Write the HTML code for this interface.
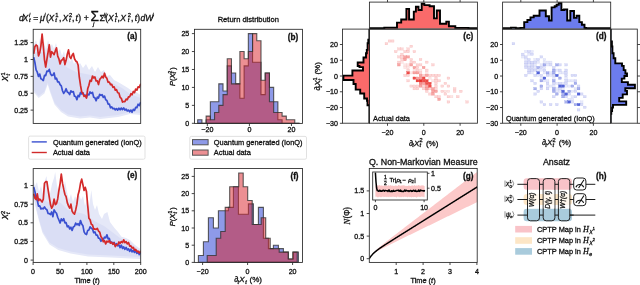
<!DOCTYPE html>
<html><head><meta charset="utf-8"><style>
html,body{margin:0;padding:0;background:#fff;width:640px;height:285px;overflow:hidden}
svg{display:block;will-change:transform;font-family:"Liberation Sans", sans-serif;fill:#1a1a1a}
text{fill:#111;stroke:#111;stroke-width:0.3px}
</style></head><body>
<svg width="640" height="285" viewBox="0 0 640 285">
<g transform="translate(0.00,0.00)">
<text x="19.00" y="20.70" font-size="8.6" font-style="italic">d</text>
<text x="22.50" y="20.70" font-size="8.6" font-style="italic">X</text>
<text x="29.00" y="17.00" font-size="5.8" font-style="italic">i</text>
<text x="29.00" y="22.30" font-size="5.8" font-style="italic">t</text>
<text x="33.30" y="20.70" font-size="8.6">=</text>
<text x="39.90" y="20.70" font-size="8.6" font-style="italic">&#956;</text>
<text x="44.30" y="17.00" font-size="5.8" font-style="italic">i</text>
<text x="46.10" y="20.70" font-size="8.6">(</text>
<text x="48.60" y="20.70" font-size="8.6" font-style="italic">X</text>
<text x="55.30" y="17.00" font-size="5.8">1</text>
<text x="55.30" y="22.30" font-size="5.8" font-style="italic">t</text>
<text x="59.00" y="20.70" font-size="8.6">,</text>
<text x="62.60" y="20.70" font-size="8.6" font-style="italic">X</text>
<text x="69.00" y="17.00" font-size="5.8">2</text>
<text x="69.00" y="22.30" font-size="5.8" font-style="italic">t</text>
<text x="72.00" y="20.70" font-size="8.6">,</text>
<text x="75.60" y="20.70" font-size="8.6" font-style="italic">t</text>
<text x="78.30" y="20.70" font-size="8.6">)</text>
<text x="83.80" y="20.70" font-size="8.6">+</text>
<text x="90.60" y="21.00" font-size="13.8">&#931;</text>
<text x="93.00" y="26.40" font-size="5.8" font-style="italic">j</text>
<text x="99.60" y="20.70" font-size="8.6">&#931;</text>
<text x="103.60" y="17.00" font-size="5.8" font-style="italic">ij</text>
<text x="105.30" y="20.70" font-size="8.6">(</text>
<text x="108.00" y="20.70" font-size="8.6" font-style="italic">X</text>
<text x="114.70" y="17.00" font-size="5.8">1</text>
<text x="114.70" y="22.30" font-size="5.8" font-style="italic">t</text>
<text x="117.50" y="20.70" font-size="8.6">,</text>
<text x="120.30" y="20.70" font-size="8.6" font-style="italic">X</text>
<text x="127.80" y="17.00" font-size="5.8">2</text>
<text x="127.80" y="22.30" font-size="5.8" font-style="italic">t</text>
<text x="131.10" y="20.70" font-size="8.6">,</text>
<text x="134.70" y="20.70" font-size="8.6" font-style="italic">t</text>
<text x="137.20" y="20.70" font-size="8.6">)</text>
<text x="140.50" y="20.70" font-size="8.6" font-style="italic">d</text>
<text x="145.20" y="20.70" font-size="8.6" font-style="italic">W</text>
<text x="152.30" y="17.00" font-size="5.8" font-style="italic">j</text>
</g>
<polygon points="33.40,46.00 36.00,40.00 38.00,48.00 40.00,38.00 42.00,46.00 44.00,42.00 46.00,50.00 48.00,40.00 50.00,47.00 52.00,44.00 54.00,49.00 56.00,43.00 58.00,52.00 60.00,49.00 62.00,56.00 64.00,51.00 66.00,60.00 68.00,55.00 70.00,62.00 72.00,58.00 74.00,64.00 76.00,61.00 78.00,66.00 80.00,63.00 83.00,68.00 86.00,64.00 89.00,70.00 92.00,66.00 95.00,72.00 98.00,67.00 101.00,72.00 104.00,70.00 107.00,76.00 110.00,75.00 114.00,80.00 118.00,82.00 123.00,85.00 128.00,88.00 132.00,91.00 136.00,92.00 140.50,95.00 140.50,115.00 130.00,114.00 118.00,117.00 100.00,119.00 90.00,117.50 80.00,118.50 68.00,116.50 61.00,112.00 54.50,104.50 50.00,92.00 47.70,84.50 44.40,93.50 38.70,98.00 33.40,92.00" fill="#e5e8f8" />
<polygon points="33.40,52.00 38.00,52.00 44.00,52.00 50.00,54.00 56.00,56.00 62.00,64.00 68.00,68.00 76.00,72.00 86.00,74.00 96.00,76.00 106.00,80.00 114.00,84.00 122.00,88.00 130.00,94.00 140.50,98.00 140.50,113.00 130.00,112.00 118.00,115.00 100.00,117.00 90.00,115.50 80.00,116.50 68.00,114.50 61.00,110.00 54.50,102.50 50.00,90.00 47.70,82.50 44.40,91.50 38.70,96.00 33.40,90.00" fill="#dadef5" />
<svg x="0" y="0" width="640" height="285" overflow="hidden"><clipPath id="ca"><rect x="33.2" y="29.3" width="107.5" height="94.1"/></clipPath></svg>
<g clip-path="url(#ca)">
<polyline points="33.70,57.20 34.90,62.51 36.10,69.95 37.30,72.15 38.50,76.42 39.70,74.02 40.90,78.71 42.10,79.38 43.30,80.52 44.50,75.37 45.70,75.55 46.90,71.10 48.10,71.34 49.30,69.35 50.50,73.75 51.70,75.52 52.90,75.14 54.10,72.91 55.30,78.98 56.50,78.18 57.70,81.88 58.90,81.87 60.10,84.66 61.30,85.85 62.50,90.73 63.70,93.39 64.90,91.63 66.10,88.70 67.30,92.01 68.50,92.69 69.70,94.50 70.90,90.80 72.10,92.06 73.30,91.58 74.50,96.17 75.70,96.49 76.90,99.74 78.10,95.43 79.30,96.59 80.50,92.45 81.70,93.91 82.90,92.74 84.10,95.50 85.30,95.21 86.50,97.10 87.70,94.10 88.90,94.94 90.10,91.92 91.30,93.40 92.50,92.33 93.70,97.24 94.90,97.83 96.10,100.76 97.30,97.16 98.50,98.05 99.70,94.28 100.90,95.44 102.10,94.63 103.30,97.41 104.50,96.10 105.70,99.72 106.90,100.42 108.10,104.05 109.30,104.11 110.50,107.78 111.70,106.84 112.90,108.75 114.10,108.35 115.30,109.88 116.50,108.57 117.70,110.12 118.90,108.19 120.10,109.80 121.30,108.07 122.50,109.62 123.70,107.95 124.90,110.15 126.10,109.10 127.30,110.98 128.50,110.03 129.70,111.78 130.90,110.05 132.10,112.28 133.30,109.29 134.50,110.47 135.70,107.41 136.90,107.62 138.10,104.19 139.30,105.54 140.50,102.67 140.60,103.00" fill="none" stroke="#3a50d0" stroke-width="1.7" stroke-linejoin="round" />
<polyline points="33.70,53.80 34.90,46.63 36.10,45.02 37.30,45.93 38.50,56.00 39.70,52.77 40.90,45.83 42.10,34.13 43.30,46.19 44.50,59.82 45.70,67.03 46.90,59.27 48.10,52.14 49.30,44.72 50.50,57.16 51.70,51.69 52.90,53.10 54.10,54.65 55.30,50.92 56.50,47.82 57.70,56.14 58.90,58.87 60.10,63.98 61.30,60.35 62.50,59.79 63.70,57.71 64.90,64.54 66.10,60.31 67.30,54.24 68.50,49.85 69.70,56.87 70.90,58.56 72.10,55.20 73.30,53.51 74.50,58.73 75.70,60.95 76.90,61.76 78.10,65.03 79.30,77.21 80.50,85.23 81.70,91.96 82.90,93.37 84.10,96.41 85.30,95.63 86.50,97.99 87.70,88.79 88.90,85.25 90.10,80.29 91.30,81.25 92.50,76.01 93.70,77.93 94.90,77.02 96.10,80.98 97.30,80.74 98.50,84.55 99.70,79.60 100.90,77.96 102.10,76.24 103.30,77.89 104.50,73.23 105.70,77.01 106.90,78.42 108.10,82.27 109.30,82.00 110.50,84.65 111.70,84.33 112.90,87.27 114.10,86.78 115.30,90.11 116.50,89.55 117.70,92.75 118.90,92.97 120.10,97.29 121.30,98.31 122.50,102.08 123.70,101.53 124.90,101.71 126.10,99.13 127.30,99.69 128.50,96.95 129.70,96.80 130.90,93.72 132.10,94.77 133.30,91.43 134.50,92.64 135.70,89.09 136.90,90.10 138.10,86.84 139.30,87.31 140.50,84.34 140.60,85.50" fill="none" stroke="#d42a2a" stroke-width="1.7" stroke-linejoin="round" />
</g>
<rect x="33.20" y="29.30" width="107.50" height="94.10" fill="none" stroke="#262626" stroke-width="0.85"/>
<line x1="30.60" y1="42.61" x2="33.20" y2="42.61" stroke="#262626" stroke-width="0.85"/>
<text x="28.00" y="45.16" font-size="7.1" text-anchor="end" >1.25</text>
<line x1="30.60" y1="59.48" x2="33.20" y2="59.48" stroke="#262626" stroke-width="0.85"/>
<text x="28.00" y="62.03" font-size="7.1" text-anchor="end" >1</text>
<line x1="30.60" y1="76.36" x2="33.20" y2="76.36" stroke="#262626" stroke-width="0.85"/>
<text x="28.00" y="78.91" font-size="7.1" text-anchor="end" >0.75</text>
<line x1="30.60" y1="93.23" x2="33.20" y2="93.23" stroke="#262626" stroke-width="0.85"/>
<text x="28.00" y="95.78" font-size="7.1" text-anchor="end" >0.5</text>
<line x1="30.60" y1="110.11" x2="33.20" y2="110.11" stroke="#262626" stroke-width="0.85"/>
<text x="28.00" y="112.66" font-size="7.1" text-anchor="end" >0.25</text>
<text x="137.20" y="39.30" font-size="8.2" text-anchor="end" font-weight="bold">(a)</text>
<g transform="translate(8.20,81.20) rotate(-90)">
<text x="0.00" y="0.00" font-size="8.2" font-style="italic">X</text>
<text x="5.60" y="-3.30" font-size="5.6">1</text>
<text x="5.60" y="1.90" font-size="5.6" font-style="italic">t</text>
</g>
<rect x="28.6" y="136.1" width="116.4" height="23.1" rx="1.5" fill="#fff" stroke="#d9d9d9" stroke-width="0.8"/>
<line x1="31.70" y1="141.90" x2="46.80" y2="141.90" stroke="#3a50d0" stroke-width="1.4"/>
<line x1="31.70" y1="152.50" x2="46.80" y2="152.50" stroke="#d12a2a" stroke-width="1.4"/>
<text x="52.90" y="144.60" font-size="7.4" text-anchor="start" >Quantum generated (IonQ)</text>
<text x="52.90" y="155.20" font-size="7.4" text-anchor="start" >Actual data</text>
<polygon points="33.40,180.00 35.00,186.00 37.00,182.00 39.00,192.00 41.00,186.00 43.00,194.00 45.00,180.00 46.50,176.00 48.00,188.00 50.00,194.00 52.00,184.00 54.00,178.00 55.20,172.00 57.00,186.00 59.00,194.00 61.00,184.00 63.00,191.00 65.00,181.00 67.00,192.00 69.00,200.00 71.00,194.00 73.00,202.00 75.00,196.00 77.00,200.00 79.00,194.00 81.00,200.00 83.00,196.00 85.00,206.00 87.00,200.00 89.00,208.00 91.30,190.00 93.00,204.00 95.00,210.00 97.00,205.00 99.00,214.00 102.00,219.00 104.00,214.00 107.40,212.00 110.00,222.00 114.50,228.00 118.00,232.00 121.50,236.80 126.00,238.00 130.20,240.30 135.00,245.00 140.50,249.00 140.50,259.00 111.00,257.50 88.00,256.50 70.60,253.50 58.30,250.00 49.50,244.50 42.50,233.00 39.00,221.00 35.00,205.00 33.40,195.00" fill="#e5e8f8" />
<polygon points="33.40,190.00 38.00,198.00 44.00,200.00 50.00,203.00 56.00,200.00 62.00,204.00 68.00,210.00 76.00,212.00 84.00,214.00 90.00,218.00 96.00,222.00 104.00,226.00 112.00,232.00 120.00,238.00 130.00,243.00 140.50,251.00 140.50,257.00 111.00,255.50 88.00,254.50 70.60,251.50 58.30,248.00 49.50,242.50 42.50,231.00 39.00,219.00 35.00,203.00 33.40,193.00" fill="#dadef5" />
<g clip-path="url(#ce)">
<clipPath id="ce"><rect x="33.2" y="168.6" width="107.5" height="93.8"/></clipPath>
<polyline points="33.70,187.00 34.90,191.49 36.10,198.29 37.30,200.26 38.50,206.10 39.70,205.80 40.90,208.86 42.10,208.35 43.30,208.78 44.50,206.91 45.70,208.89 46.90,209.80 48.10,213.44 49.30,213.64 50.50,214.48 51.70,211.98 52.90,216.71 54.10,209.88 55.30,211.96 56.50,213.28 57.70,217.27 58.90,219.99 60.10,223.00 61.30,218.91 62.50,220.71 63.70,218.76 64.90,222.84 66.10,222.71 67.30,226.77 68.50,225.89 69.70,228.89 70.90,227.26 72.10,230.37 73.30,226.88 74.50,226.24 75.70,223.13 76.90,224.76 78.10,223.75 79.30,225.46 80.50,220.51 81.70,224.11 82.90,225.70 84.10,231.82 85.30,233.87 86.50,234.59 87.70,230.59 88.90,230.04 90.10,226.90 91.30,228.29 92.50,229.06 93.70,232.71 94.90,231.90 96.10,235.03 97.30,235.08 98.50,238.23 99.70,238.35 100.90,241.27 102.10,239.68 103.30,239.62 104.50,237.18 105.70,237.78 106.90,234.78 108.10,238.83 109.30,238.47 110.50,242.94 111.70,242.09 112.90,243.66 114.10,242.41 115.30,245.69 116.50,243.67 117.70,245.78 118.90,244.85 120.10,247.58 121.30,245.14 122.50,248.39 123.70,246.89 124.90,249.30 126.10,247.49 127.30,249.99 128.50,248.78 129.70,251.35 130.90,249.13 132.10,251.84 133.30,250.38 134.50,252.45 135.70,250.72 136.90,253.35 138.10,251.99 139.30,254.51 140.50,253.17 140.60,254.00" fill="none" stroke="#3a50d0" stroke-width="1.7" stroke-linejoin="round" />
<polyline points="33.70,193.80 34.90,198.14 36.10,199.49 37.30,193.80 38.50,200.71 39.70,199.13 40.90,200.42 42.10,202.00 43.30,199.13 44.50,183.18 45.70,181.72 46.90,181.68 48.10,189.65 49.30,197.25 50.50,204.61 51.70,208.16 52.90,205.95 54.10,199.14 55.30,204.58 56.50,203.51 57.70,198.96 58.90,190.49 60.10,183.55 61.30,174.08 62.50,183.15 63.70,189.18 64.90,194.31 66.10,196.69 67.30,202.61 68.50,205.84 69.70,208.17 70.90,204.16 72.10,211.15 73.30,213.17 74.50,214.14 75.70,209.93 76.90,204.13 78.10,194.70 79.30,190.54 80.50,183.31 81.70,179.17 82.90,184.62 84.10,190.49 85.30,187.38 86.50,191.83 87.70,205.40 88.90,218.17 90.10,219.79 91.30,224.20 92.50,224.90 93.70,229.06 94.90,228.90 96.10,229.50 97.30,228.35 98.50,231.01 99.70,232.10 100.90,236.47 102.10,238.21 103.30,241.73 104.50,240.76 105.70,243.90 106.90,241.14 108.10,242.03 109.30,240.66 110.50,243.07 111.70,242.34 112.90,244.35 114.10,242.88 115.30,246.57 116.50,244.93 117.70,244.77 118.90,241.99 120.10,243.40 121.30,241.56 122.50,242.68 123.70,239.85 124.90,242.68 126.10,241.55 127.30,243.91 128.50,242.52 129.70,246.08 130.90,245.86 132.10,248.11 133.30,247.34 134.50,250.17 135.70,249.39 136.90,251.62 138.10,251.16 139.30,252.96 140.50,251.36 140.60,253.00" fill="none" stroke="#d42a2a" stroke-width="1.7" stroke-linejoin="round" />
</g>
<rect x="33.20" y="168.60" width="107.50" height="93.80" fill="none" stroke="#262626" stroke-width="0.85"/>
<line x1="30.60" y1="185.50" x2="33.20" y2="185.50" stroke="#262626" stroke-width="0.85"/>
<text x="28.00" y="188.05" font-size="7.1" text-anchor="end" >1</text>
<line x1="30.60" y1="204.15" x2="33.20" y2="204.15" stroke="#262626" stroke-width="0.85"/>
<text x="28.00" y="206.70" font-size="7.1" text-anchor="end" >0.75</text>
<line x1="30.60" y1="222.80" x2="33.20" y2="222.80" stroke="#262626" stroke-width="0.85"/>
<text x="28.00" y="225.35" font-size="7.1" text-anchor="end" >0.5</text>
<line x1="30.60" y1="241.45" x2="33.20" y2="241.45" stroke="#262626" stroke-width="0.85"/>
<text x="28.00" y="244.00" font-size="7.1" text-anchor="end" >0.25</text>
<line x1="30.60" y1="260.10" x2="33.20" y2="260.10" stroke="#262626" stroke-width="0.85"/>
<text x="28.00" y="262.65" font-size="7.1" text-anchor="end" >0</text>
<line x1="33.10" y1="262.40" x2="33.10" y2="265.00" stroke="#262626" stroke-width="0.85"/>
<text x="33.10" y="273.50" font-size="7.1" text-anchor="middle" >0</text>
<line x1="60.00" y1="262.40" x2="60.00" y2="265.00" stroke="#262626" stroke-width="0.85"/>
<text x="60.00" y="273.50" font-size="7.1" text-anchor="middle" >50</text>
<line x1="86.90" y1="262.40" x2="86.90" y2="265.00" stroke="#262626" stroke-width="0.85"/>
<text x="86.90" y="273.50" font-size="7.1" text-anchor="middle" >100</text>
<line x1="113.80" y1="262.40" x2="113.80" y2="265.00" stroke="#262626" stroke-width="0.85"/>
<text x="113.80" y="273.50" font-size="7.1" text-anchor="middle" >150</text>
<line x1="140.70" y1="262.40" x2="140.70" y2="265.00" stroke="#262626" stroke-width="0.85"/>
<text x="140.70" y="273.50" font-size="7.1" text-anchor="middle" >200</text>
<text x="137.20" y="178.30" font-size="8.2" text-anchor="end" font-weight="bold">(e)</text>
<g transform="translate(8.20,219.60) rotate(-90)">
<text x="0.00" y="0.00" font-size="8.2" font-style="italic">X</text>
<text x="5.60" y="-3.30" font-size="5.6">2</text>
<text x="5.60" y="1.90" font-size="5.6" font-style="italic">t</text>
</g>
<text x="87" y="282.6" font-size="7.4" text-anchor="middle">Time (<tspan font-style="italic">t</tspan>)</text>
<text x="248.30" y="21.80" font-size="7.55" text-anchor="middle" >Return distribution</text>
<clipPath id="cb"><rect x="194.5" y="29.3" width="108" height="94.1"/></clipPath><g clip-path="url(#cb)">
<polygon points="197.70,123.40 197.70,119.71 201.92,119.71 201.92,123.30 206.14,123.30 206.14,119.71 210.36,119.71 210.36,101.77 214.58,101.77 214.58,101.77 218.80,101.77 218.80,83.83 223.02,83.83 223.02,91.01 227.24,91.01 227.24,65.89 231.46,65.89 231.46,73.07 235.68,73.07 235.68,83.83 239.90,83.83 239.90,98.18 244.12,98.18 244.12,65.89 248.34,65.89 248.34,33.60 252.56,33.60 252.56,62.30 256.78,62.30 256.78,62.30 261.00,62.30 261.00,94.60 265.22,94.60 265.22,73.07 269.44,73.07 269.44,87.42 273.66,87.42 273.66,101.77 277.88,101.77 277.88,119.71 282.10,119.71 282.10,123.30 286.32,123.30 286.32,123.30 290.54,123.30 290.54,123.30 294.76,123.30 294.76,123.30 298.98,123.30 298.98,123.40" fill="#1d35d1" fill-opacity="0.5" stroke="#333" stroke-width="1.1" stroke-opacity="0.8"/>
<polygon points="197.70,123.40 197.70,123.30 201.92,123.30 201.92,123.30 206.14,123.30 206.14,116.12 210.36,116.12 210.36,119.71 214.58,119.71 214.58,112.54 218.80,112.54 218.80,105.36 223.02,105.36 223.02,94.60 227.24,94.60 227.24,58.72 231.46,58.72 231.46,83.83 235.68,83.83 235.68,83.83 239.90,83.83 239.90,51.54 244.12,51.54 244.12,58.72 248.34,58.72 248.34,51.54 252.56,51.54 252.56,33.60 256.78,33.60 256.78,40.78 261.00,40.78 261.00,80.24 265.22,80.24 265.22,73.07 269.44,73.07 269.44,101.77 273.66,101.77 273.66,112.54 277.88,112.54 277.88,112.54 282.10,112.54 282.10,116.12 286.32,116.12 286.32,119.71 290.54,119.71 290.54,119.71 294.76,119.71 294.76,123.30 298.98,123.30 298.98,123.40" fill="#d91f27" fill-opacity="0.5" stroke="#333" stroke-width="1.1" stroke-opacity="0.8"/>
</g>
<rect x="194.50" y="29.30" width="108.00" height="94.10" fill="none" stroke="#262626" stroke-width="0.85"/>
<line x1="191.90" y1="123.30" x2="194.50" y2="123.30" stroke="#262626" stroke-width="0.85"/>
<text x="189.30" y="125.85" font-size="7.1" text-anchor="end" >0</text>
<line x1="191.90" y1="105.36" x2="194.50" y2="105.36" stroke="#262626" stroke-width="0.85"/>
<text x="189.30" y="107.91" font-size="7.1" text-anchor="end" >5</text>
<line x1="191.90" y1="87.42" x2="194.50" y2="87.42" stroke="#262626" stroke-width="0.85"/>
<text x="189.30" y="89.97" font-size="7.1" text-anchor="end" >10</text>
<line x1="191.90" y1="69.48" x2="194.50" y2="69.48" stroke="#262626" stroke-width="0.85"/>
<text x="189.30" y="72.03" font-size="7.1" text-anchor="end" >15</text>
<line x1="191.90" y1="51.54" x2="194.50" y2="51.54" stroke="#262626" stroke-width="0.85"/>
<text x="189.30" y="54.09" font-size="7.1" text-anchor="end" >20</text>
<line x1="191.90" y1="33.60" x2="194.50" y2="33.60" stroke="#262626" stroke-width="0.85"/>
<text x="189.30" y="36.15" font-size="7.1" text-anchor="end" >25</text>
<line x1="207.34" y1="123.40" x2="207.34" y2="126.00" stroke="#262626" stroke-width="0.85"/>
<text x="207.34" y="132.30" font-size="7.1" text-anchor="middle" >&#8722;20</text>
<line x1="249.40" y1="123.40" x2="249.40" y2="126.00" stroke="#262626" stroke-width="0.85"/>
<text x="249.40" y="132.30" font-size="7.1" text-anchor="middle" >0</text>
<line x1="291.46" y1="123.40" x2="291.46" y2="126.00" stroke="#262626" stroke-width="0.85"/>
<text x="291.46" y="132.30" font-size="7.1" text-anchor="middle" >20</text>
<text x="298.20" y="39.80" font-size="8.2" text-anchor="end" font-weight="bold">(b)</text>
<g transform="translate(174.50,86.10) rotate(-90)">
<text x="0.00" y="0.00" font-size="7.5" font-style="italic">P</text>
<text x="5.00" y="0.00" font-size="7.5">(</text>
<text x="7.50" y="0.00" font-size="7.5" font-style="italic">X</text>
<text x="12.60" y="-3.00" font-size="5.2">2</text>
<text x="12.60" y="1.80" font-size="5.2" font-style="italic">t</text>
<text x="16.40" y="0.00" font-size="7.5">)</text>
</g>
<rect x="189.8" y="136.4" width="116.7" height="22.8" rx="1.5" fill="#fff" stroke="#d9d9d9" stroke-width="0.8"/>
<rect x="192.5" y="139.6" width="15.6" height="5.2" fill="#1d35d1" fill-opacity="0.5" stroke="#555" stroke-width="1"/>
<rect x="192.5" y="150.0" width="15.6" height="5.2" fill="#d91f27" fill-opacity="0.5" stroke="#555" stroke-width="1"/>
<text x="213.80" y="144.80" font-size="7.4" text-anchor="start" >Quantum generated (IonQ)</text>
<text x="213.80" y="155.20" font-size="7.4" text-anchor="start" >Actual data</text>
<clipPath id="cf"><rect x="194.3" y="168.5" width="108.2" height="93.9"/></clipPath><g clip-path="url(#cf)">
<polygon points="198.40,262.40 198.40,255.52 203.40,255.52 203.40,241.76 208.40,241.76 208.40,217.68 213.40,217.68 213.40,228.00 218.40,228.00 218.40,210.80 223.40,210.80 223.40,210.80 228.40,210.80 228.40,207.36 233.40,207.36 233.40,186.72 238.40,186.72 238.40,214.24 243.40,214.24 243.40,214.24 248.40,214.24 248.40,203.92 253.40,203.92 253.40,224.56 258.40,224.56 258.40,207.36 263.40,207.36 263.40,238.32 268.40,238.32 268.40,248.64 273.40,248.64 273.40,245.20 278.40,245.20 278.40,248.64 283.40,248.64 283.40,252.08 288.40,252.08 288.40,258.96 293.40,258.96 293.40,252.08 298.40,252.08 298.40,262.40" fill="#1d35d1" fill-opacity="0.5" stroke="#333" stroke-width="1.1" stroke-opacity="0.8"/>
<polygon points="207.20,262.40 207.20,255.52 211.70,255.52 211.70,255.52 216.20,255.52 216.20,238.32 220.70,238.32 220.70,231.44 225.20,231.44 225.20,207.36 229.70,207.36 229.70,186.72 234.20,186.72 234.20,186.72 238.70,186.72 238.70,172.96 243.20,172.96 243.20,186.72 247.70,186.72 247.70,200.48 252.20,200.48 252.20,224.56 256.70,224.56 256.70,224.56 261.20,224.56 261.20,217.68 265.70,217.68 265.70,238.32 270.20,238.32 270.20,248.64 274.70,248.64 274.70,248.64 279.20,248.64 279.20,252.08 283.70,252.08 283.70,252.08 288.20,252.08 288.20,258.96 292.70,258.96 292.70,252.08 297.20,252.08 297.20,262.40" fill="#d91f27" fill-opacity="0.5" stroke="#333" stroke-width="1.1" stroke-opacity="0.8"/>
</g>
<rect x="194.30" y="168.50" width="108.20" height="93.90" fill="none" stroke="#262626" stroke-width="0.85"/>
<line x1="191.70" y1="262.40" x2="194.30" y2="262.40" stroke="#262626" stroke-width="0.85"/>
<text x="189.10" y="264.95" font-size="7.1" text-anchor="end" >0</text>
<line x1="191.70" y1="245.20" x2="194.30" y2="245.20" stroke="#262626" stroke-width="0.85"/>
<text x="189.10" y="247.75" font-size="7.1" text-anchor="end" >5</text>
<line x1="191.70" y1="228.00" x2="194.30" y2="228.00" stroke="#262626" stroke-width="0.85"/>
<text x="189.10" y="230.55" font-size="7.1" text-anchor="end" >10</text>
<line x1="191.70" y1="210.80" x2="194.30" y2="210.80" stroke="#262626" stroke-width="0.85"/>
<text x="189.10" y="213.35" font-size="7.1" text-anchor="end" >15</text>
<line x1="191.70" y1="193.60" x2="194.30" y2="193.60" stroke="#262626" stroke-width="0.85"/>
<text x="189.10" y="196.15" font-size="7.1" text-anchor="end" >20</text>
<line x1="191.70" y1="176.40" x2="194.30" y2="176.40" stroke="#262626" stroke-width="0.85"/>
<text x="189.10" y="178.95" font-size="7.1" text-anchor="end" >25</text>
<line x1="202.60" y1="262.40" x2="202.60" y2="265.00" stroke="#262626" stroke-width="0.85"/>
<text x="202.60" y="273.50" font-size="7.1" text-anchor="middle" >&#8722;20</text>
<line x1="247.60" y1="262.40" x2="247.60" y2="265.00" stroke="#262626" stroke-width="0.85"/>
<text x="247.60" y="273.50" font-size="7.1" text-anchor="middle" >0</text>
<line x1="292.60" y1="262.40" x2="292.60" y2="265.00" stroke="#262626" stroke-width="0.85"/>
<text x="292.60" y="273.50" font-size="7.1" text-anchor="middle" >20</text>
<text x="298.60" y="179.00" font-size="8.2" text-anchor="end" font-weight="bold">(f)</text>
<g transform="translate(174.80,226.20) rotate(-90)">
<text x="0.00" y="0.00" font-size="7.5" font-style="italic">P</text>
<text x="5.00" y="0.00" font-size="7.5">(</text>
<text x="7.50" y="0.00" font-size="7.5" font-style="italic">X</text>
<text x="12.60" y="-3.00" font-size="5.2">1</text>
<text x="12.60" y="1.80" font-size="5.2" font-style="italic">t</text>
<text x="16.40" y="0.00" font-size="7.5">)</text>
</g>
<g transform="translate(234.20,282.30)">
<text x="0.00" y="0.00" font-size="8" font-style="italic">&#8706;</text>
<text x="3.30" y="1.80" font-size="5.6" font-style="italic">t</text>
<text x="5.00" y="0.00" font-size="8" font-style="italic">X</text>
<text x="11.00" y="1.80" font-size="5.6" font-style="italic">t</text>
<text x="15.30" y="0.00" font-size="8">(%)</text>
</g>
<clipPath id="ctc"><rect x="369.4" y="2.1" width="108" height="27"/></clipPath><g clip-path="url(#ctc)">
<polygon points="369.40,28.60 369.40,28.20 384.30,28.20 384.30,27.60 397.00,27.60 397.00,22.60 401.20,22.60 401.20,19.50 406.40,19.50 406.40,8.90 409.10,8.90 409.10,19.50 413.80,19.50 413.80,11.60 415.90,11.60 415.90,6.80 418.50,6.80 418.50,10.00 421.70,10.00 421.70,3.70 424.30,3.70 424.30,5.10 429.60,5.10 429.60,6.30 434.00,6.30 434.00,18.40 436.80,18.40 436.80,10.50 440.00,10.50 440.00,23.70 446.30,23.70 446.30,21.60 448.90,21.60 448.90,26.30 455.30,26.30 455.30,27.90 468.40,27.90 468.40,28.20 477.40,28.20 477.40,28.60" fill="#fa6a6a" />
<polyline points="369.40,28.60 369.40,28.20 384.30,28.20 384.30,27.60 397.00,27.60 397.00,22.60 401.20,22.60 401.20,19.50 406.40,19.50 406.40,8.90 409.10,8.90 409.10,19.50 413.80,19.50 413.80,11.60 415.90,11.60 415.90,6.80 418.50,6.80 418.50,10.00 421.70,10.00 421.70,3.70 424.30,3.70 424.30,5.10 429.60,5.10 429.60,6.30 434.00,6.30 434.00,18.40 436.80,18.40 436.80,10.50 440.00,10.50 440.00,23.70 446.30,23.70 446.30,21.60 448.90,21.60 448.90,26.30 455.30,26.30 455.30,27.90 468.40,27.90 468.40,28.20 477.40,28.20 477.40,28.60" fill="none" stroke="#000" stroke-width="1.9" stroke-linejoin="miter"/>
</g>
<clipPath id="clc"><rect x="342.5" y="29.1" width="26.9" height="94.1"/></clipPath><g clip-path="url(#clc)">
<polygon points="369.00,29.10 369.40,29.10 369.40,39.80 368.30,39.80 368.30,43.20 367.60,43.20 367.60,49.90 366.80,49.90 366.80,53.30 366.00,53.30 366.00,57.50 363.50,57.50 363.50,62.50 357.70,62.50 357.70,66.00 359.50,66.00 359.50,67.10 363.00,67.10 363.00,70.50 352.40,70.50 352.40,75.60 343.40,75.60 343.40,80.00 353.50,80.00 353.50,84.00 355.70,84.00 355.70,89.60 360.20,89.60 360.20,93.50 364.20,93.50 364.20,98.50 367.00,98.50 367.00,100.70 367.50,100.70 367.50,105.20 369.40,105.20 369.40,123.20 369.00,123.20" fill="#fa6a6a" />
<polyline points="369.00,29.10 369.40,29.10 369.40,39.80 368.30,39.80 368.30,43.20 367.60,43.20 367.60,49.90 366.80,49.90 366.80,53.30 366.00,53.30 366.00,57.50 363.50,57.50 363.50,62.50 357.70,62.50 357.70,66.00 359.50,66.00 359.50,67.10 363.00,67.10 363.00,70.50 352.40,70.50 352.40,75.60 343.40,75.60 343.40,80.00 353.50,80.00 353.50,84.00 355.70,84.00 355.70,89.60 360.20,89.60 360.20,93.50 364.20,93.50 364.20,98.50 367.00,98.50 367.00,100.70 367.50,100.70 367.50,105.20 369.40,105.20 369.40,123.20 369.00,123.20" fill="none" stroke="#000" stroke-width="1.9" stroke-linejoin="miter"/>
</g>
<rect x="369.40" y="2.10" width="108.00" height="27.00" fill="none" stroke="#262626" stroke-width="0.85"/>
<rect x="342.50" y="29.10" width="26.90" height="94.10" fill="none" stroke="#262626" stroke-width="0.85"/>
<rect x="369.40" y="29.10" width="108.00" height="94.10" fill="none" stroke="#262626" stroke-width="0.85"/>
<line x1="387.50" y1="0.00" x2="387.50" y2="2.10" stroke="#262626" stroke-width="0.85"/>
<line x1="423.80" y1="0.00" x2="423.80" y2="2.10" stroke="#262626" stroke-width="0.85"/>
<line x1="460.10" y1="0.00" x2="460.10" y2="2.10" stroke="#262626" stroke-width="0.85"/>
<line x1="339.90" y1="44.50" x2="342.50" y2="44.50" stroke="#262626" stroke-width="0.85"/>
<text x="338.00" y="47.05" font-size="7.1" text-anchor="end" >20</text>
<line x1="339.90" y1="60.26" x2="342.50" y2="60.26" stroke="#262626" stroke-width="0.85"/>
<text x="338.00" y="62.81" font-size="7.1" text-anchor="end" >10</text>
<line x1="339.90" y1="76.02" x2="342.50" y2="76.02" stroke="#262626" stroke-width="0.85"/>
<text x="338.00" y="78.57" font-size="7.1" text-anchor="end" >0</text>
<line x1="339.90" y1="91.78" x2="342.50" y2="91.78" stroke="#262626" stroke-width="0.85"/>
<text x="338.00" y="94.33" font-size="7.1" text-anchor="end" >&#8722;10</text>
<line x1="339.90" y1="107.54" x2="342.50" y2="107.54" stroke="#262626" stroke-width="0.85"/>
<text x="338.00" y="110.09" font-size="7.1" text-anchor="end" >&#8722;20</text>
<line x1="339.90" y1="123.30" x2="342.50" y2="123.30" stroke="#262626" stroke-width="0.85"/>
<text x="338.00" y="125.85" font-size="7.1" text-anchor="end" >&#8722;30</text>
<line x1="387.50" y1="123.20" x2="387.50" y2="125.80" stroke="#262626" stroke-width="0.85"/>
<text x="387.50" y="134.60" font-size="7.1" text-anchor="middle" >&#8722;20</text>
<line x1="423.80" y1="123.20" x2="423.80" y2="125.80" stroke="#262626" stroke-width="0.85"/>
<text x="423.80" y="134.60" font-size="7.1" text-anchor="middle" >0</text>
<line x1="460.10" y1="123.20" x2="460.10" y2="125.80" stroke="#262626" stroke-width="0.85"/>
<text x="460.10" y="134.60" font-size="7.1" text-anchor="middle" >20</text>
<text x="473.20" y="39.30" font-size="8.2" text-anchor="end" font-weight="bold">(c)</text>
<text x="373.00" y="120.60" font-size="7.4" text-anchor="start" >Actual data</text>
<g transform="translate(320.30,90.60) rotate(-90)">
<text x="0.00" y="0.00" font-size="8" font-style="italic">&#8706;</text>
<text x="3.13" y="1.80" font-size="5.6" font-style="italic">t</text>
<text x="4.75" y="0.00" font-size="8" font-style="italic">X</text>
<text x="10.07" y="-3.20" font-size="5.6">1</text>
<text x="10.07" y="1.80" font-size="5.6" font-style="italic">t</text>
<text x="16.05" y="0.00" font-size="8">(%)</text>
</g>
<g transform="translate(409.00,145.60)">
<text x="0.00" y="0.00" font-size="8" font-style="italic">&#8706;</text>
<text x="3.30" y="1.80" font-size="5.6" font-style="italic">t</text>
<text x="5.00" y="0.00" font-size="8" font-style="italic">X</text>
<text x="10.60" y="-3.20" font-size="5.6">2</text>
<text x="10.60" y="1.80" font-size="5.6" font-style="italic">t</text>
<text x="16.90" y="0.00" font-size="8">(%)</text>
</g>
<rect x="385.05" y="42.50" width="2.80" height="2.35" fill="#e8231f" fill-opacity="0.18" stroke="#e8231f" stroke-opacity="0.23" stroke-width="0.3"/>
<rect x="388.15" y="39.85" width="2.80" height="2.35" fill="#e8231f" fill-opacity="0.18" stroke="#e8231f" stroke-opacity="0.23" stroke-width="0.3"/>
<rect x="391.25" y="39.85" width="2.80" height="2.35" fill="#e8231f" fill-opacity="0.18" stroke="#e8231f" stroke-opacity="0.23" stroke-width="0.3"/>
<rect x="397.45" y="47.80" width="2.80" height="2.35" fill="#e8231f" fill-opacity="0.18" stroke="#e8231f" stroke-opacity="0.23" stroke-width="0.3"/>
<rect x="400.55" y="47.80" width="2.80" height="2.35" fill="#e8231f" fill-opacity="0.18" stroke="#e8231f" stroke-opacity="0.23" stroke-width="0.3"/>
<rect x="409.85" y="45.15" width="2.80" height="2.35" fill="#e8231f" fill-opacity="0.18" stroke="#e8231f" stroke-opacity="0.23" stroke-width="0.3"/>
<rect x="406.75" y="47.80" width="2.80" height="2.35" fill="#e8231f" fill-opacity="0.18" stroke="#e8231f" stroke-opacity="0.23" stroke-width="0.3"/>
<rect x="394.35" y="50.45" width="2.80" height="2.35" fill="#e8231f" fill-opacity="0.18" stroke="#e8231f" stroke-opacity="0.23" stroke-width="0.3"/>
<rect x="403.65" y="50.45" width="2.80" height="2.35" fill="#e8231f" fill-opacity="0.18" stroke="#e8231f" stroke-opacity="0.23" stroke-width="0.3"/>
<rect x="406.75" y="50.45" width="2.80" height="2.35" fill="#e8231f" fill-opacity="0.18" stroke="#e8231f" stroke-opacity="0.23" stroke-width="0.3"/>
<rect x="412.95" y="50.45" width="2.80" height="2.35" fill="#e8231f" fill-opacity="0.18" stroke="#e8231f" stroke-opacity="0.23" stroke-width="0.3"/>
<rect x="400.55" y="53.10" width="2.80" height="2.35" fill="#e8231f" fill-opacity="0.18" stroke="#e8231f" stroke-opacity="0.23" stroke-width="0.3"/>
<rect x="397.45" y="55.75" width="2.80" height="2.35" fill="#e8231f" fill-opacity="0.18" stroke="#e8231f" stroke-opacity="0.23" stroke-width="0.3"/>
<rect x="403.65" y="55.75" width="2.80" height="2.35" fill="#e8231f" fill-opacity="0.4" stroke="#e8231f" stroke-opacity="0.45" stroke-width="0.3"/>
<rect x="406.75" y="55.75" width="2.80" height="2.35" fill="#e8231f" fill-opacity="0.4" stroke="#e8231f" stroke-opacity="0.45" stroke-width="0.3"/>
<rect x="403.65" y="58.40" width="2.80" height="2.35" fill="#e8231f" fill-opacity="0.4" stroke="#e8231f" stroke-opacity="0.45" stroke-width="0.3"/>
<rect x="400.55" y="58.40" width="2.80" height="2.35" fill="#e8231f" fill-opacity="0.18" stroke="#e8231f" stroke-opacity="0.23" stroke-width="0.3"/>
<rect x="419.15" y="58.40" width="2.80" height="2.35" fill="#e8231f" fill-opacity="0.18" stroke="#e8231f" stroke-opacity="0.23" stroke-width="0.3"/>
<rect x="397.45" y="61.05" width="2.80" height="2.35" fill="#e8231f" fill-opacity="0.18" stroke="#e8231f" stroke-opacity="0.23" stroke-width="0.3"/>
<rect x="412.95" y="61.05" width="2.80" height="2.35" fill="#e8231f" fill-opacity="0.18" stroke="#e8231f" stroke-opacity="0.23" stroke-width="0.3"/>
<rect x="425.35" y="61.05" width="2.80" height="2.35" fill="#e8231f" fill-opacity="0.18" stroke="#e8231f" stroke-opacity="0.23" stroke-width="0.3"/>
<rect x="409.85" y="63.70" width="2.80" height="2.35" fill="#e8231f" fill-opacity="0.4" stroke="#e8231f" stroke-opacity="0.45" stroke-width="0.3"/>
<rect x="419.15" y="63.70" width="2.80" height="2.35" fill="#e8231f" fill-opacity="0.18" stroke="#e8231f" stroke-opacity="0.23" stroke-width="0.3"/>
<rect x="431.55" y="63.70" width="2.80" height="2.35" fill="#e8231f" fill-opacity="0.18" stroke="#e8231f" stroke-opacity="0.23" stroke-width="0.3"/>
<rect x="397.45" y="63.70" width="2.80" height="2.35" fill="#e8231f" fill-opacity="0.4" stroke="#e8231f" stroke-opacity="0.45" stroke-width="0.3"/>
<rect x="412.95" y="66.35" width="2.80" height="2.35" fill="#e8231f" fill-opacity="0.4" stroke="#e8231f" stroke-opacity="0.45" stroke-width="0.3"/>
<rect x="416.05" y="66.35" width="2.80" height="2.35" fill="#e8231f" fill-opacity="0.18" stroke="#e8231f" stroke-opacity="0.23" stroke-width="0.3"/>
<rect x="422.25" y="66.35" width="2.80" height="2.35" fill="#e8231f" fill-opacity="0.4" stroke="#e8231f" stroke-opacity="0.45" stroke-width="0.3"/>
<rect x="406.75" y="69.00" width="2.80" height="2.35" fill="#e8231f" fill-opacity="0.18" stroke="#e8231f" stroke-opacity="0.23" stroke-width="0.3"/>
<rect x="416.05" y="69.00" width="2.80" height="2.35" fill="#e8231f" fill-opacity="0.18" stroke="#e8231f" stroke-opacity="0.23" stroke-width="0.3"/>
<rect x="425.35" y="69.00" width="2.80" height="2.35" fill="#e8231f" fill-opacity="0.18" stroke="#e8231f" stroke-opacity="0.23" stroke-width="0.3"/>
<rect x="406.75" y="71.65" width="2.80" height="2.35" fill="#e8231f" fill-opacity="0.8" stroke="#e8231f" stroke-opacity="0.85" stroke-width="0.3"/>
<rect x="412.95" y="71.65" width="2.80" height="2.35" fill="#e8231f" fill-opacity="0.4" stroke="#e8231f" stroke-opacity="0.45" stroke-width="0.3"/>
<rect x="416.05" y="71.65" width="2.80" height="2.35" fill="#e8231f" fill-opacity="0.4" stroke="#e8231f" stroke-opacity="0.45" stroke-width="0.3"/>
<rect x="419.15" y="71.65" width="2.80" height="2.35" fill="#e8231f" fill-opacity="0.18" stroke="#e8231f" stroke-opacity="0.23" stroke-width="0.3"/>
<rect x="422.25" y="74.30" width="2.80" height="2.35" fill="#e8231f" fill-opacity="0.18" stroke="#e8231f" stroke-opacity="0.23" stroke-width="0.3"/>
<rect x="425.35" y="74.30" width="2.80" height="2.35" fill="#e8231f" fill-opacity="0.4" stroke="#e8231f" stroke-opacity="0.45" stroke-width="0.3"/>
<rect x="428.45" y="74.30" width="2.80" height="2.35" fill="#e8231f" fill-opacity="0.18" stroke="#e8231f" stroke-opacity="0.23" stroke-width="0.3"/>
<rect x="431.55" y="74.30" width="2.80" height="2.35" fill="#e8231f" fill-opacity="0.18" stroke="#e8231f" stroke-opacity="0.23" stroke-width="0.3"/>
<rect x="437.75" y="74.30" width="2.80" height="2.35" fill="#e8231f" fill-opacity="0.18" stroke="#e8231f" stroke-opacity="0.23" stroke-width="0.3"/>
<rect x="403.65" y="74.30" width="2.80" height="2.35" fill="#e8231f" fill-opacity="0.18" stroke="#e8231f" stroke-opacity="0.23" stroke-width="0.3"/>
<rect x="406.75" y="74.30" width="2.80" height="2.35" fill="#e8231f" fill-opacity="0.18" stroke="#e8231f" stroke-opacity="0.23" stroke-width="0.3"/>
<rect x="412.95" y="76.95" width="2.80" height="2.35" fill="#e8231f" fill-opacity="0.8" stroke="#e8231f" stroke-opacity="0.85" stroke-width="0.3"/>
<rect x="416.05" y="76.95" width="2.80" height="2.35" fill="#e8231f" fill-opacity="0.4" stroke="#e8231f" stroke-opacity="0.45" stroke-width="0.3"/>
<rect x="419.15" y="76.95" width="2.80" height="2.35" fill="#e8231f" fill-opacity="0.4" stroke="#e8231f" stroke-opacity="0.45" stroke-width="0.3"/>
<rect x="422.25" y="76.95" width="2.80" height="2.35" fill="#e8231f" fill-opacity="0.8" stroke="#e8231f" stroke-opacity="0.85" stroke-width="0.3"/>
<rect x="406.75" y="79.60" width="2.80" height="2.35" fill="#e8231f" fill-opacity="0.18" stroke="#e8231f" stroke-opacity="0.23" stroke-width="0.3"/>
<rect x="416.05" y="79.60" width="2.80" height="2.35" fill="#e8231f" fill-opacity="0.85" stroke="#e8231f" stroke-opacity="0.90" stroke-width="0.3"/>
<rect x="419.15" y="79.60" width="2.80" height="2.35" fill="#e8231f" fill-opacity="0.95" stroke="#e8231f" stroke-opacity="1.00" stroke-width="0.3"/>
<rect x="422.25" y="82.25" width="2.80" height="2.35" fill="#e8231f" fill-opacity="0.4" stroke="#e8231f" stroke-opacity="0.45" stroke-width="0.3"/>
<rect x="425.35" y="82.25" width="2.80" height="2.35" fill="#e8231f" fill-opacity="0.8" stroke="#e8231f" stroke-opacity="0.85" stroke-width="0.3"/>
<rect x="428.45" y="82.25" width="2.80" height="2.35" fill="#e8231f" fill-opacity="0.8" stroke="#e8231f" stroke-opacity="0.85" stroke-width="0.3"/>
<rect x="437.75" y="79.60" width="2.80" height="2.35" fill="#e8231f" fill-opacity="0.18" stroke="#e8231f" stroke-opacity="0.23" stroke-width="0.3"/>
<rect x="447.05" y="76.95" width="2.80" height="2.35" fill="#e8231f" fill-opacity="0.18" stroke="#e8231f" stroke-opacity="0.23" stroke-width="0.3"/>
<rect x="412.95" y="84.90" width="2.80" height="2.35" fill="#e8231f" fill-opacity="0.18" stroke="#e8231f" stroke-opacity="0.23" stroke-width="0.3"/>
<rect x="416.05" y="84.90" width="2.80" height="2.35" fill="#e8231f" fill-opacity="0.18" stroke="#e8231f" stroke-opacity="0.23" stroke-width="0.3"/>
<rect x="419.15" y="84.90" width="2.80" height="2.35" fill="#e8231f" fill-opacity="0.4" stroke="#e8231f" stroke-opacity="0.45" stroke-width="0.3"/>
<rect x="422.25" y="84.90" width="2.80" height="2.35" fill="#e8231f" fill-opacity="0.18" stroke="#e8231f" stroke-opacity="0.23" stroke-width="0.3"/>
<rect x="428.45" y="84.90" width="2.80" height="2.35" fill="#e8231f" fill-opacity="0.8" stroke="#e8231f" stroke-opacity="0.85" stroke-width="0.3"/>
<rect x="440.85" y="84.90" width="2.80" height="2.35" fill="#e8231f" fill-opacity="0.18" stroke="#e8231f" stroke-opacity="0.23" stroke-width="0.3"/>
<rect x="443.95" y="82.25" width="2.80" height="2.35" fill="#e8231f" fill-opacity="0.18" stroke="#e8231f" stroke-opacity="0.23" stroke-width="0.3"/>
<rect x="447.05" y="84.90" width="2.80" height="2.35" fill="#e8231f" fill-opacity="0.18" stroke="#e8231f" stroke-opacity="0.23" stroke-width="0.3"/>
<rect x="412.95" y="87.55" width="2.80" height="2.35" fill="#e8231f" fill-opacity="0.18" stroke="#e8231f" stroke-opacity="0.23" stroke-width="0.3"/>
<rect x="416.05" y="87.55" width="2.80" height="2.35" fill="#e8231f" fill-opacity="0.18" stroke="#e8231f" stroke-opacity="0.23" stroke-width="0.3"/>
<rect x="422.25" y="87.55" width="2.80" height="2.35" fill="#e8231f" fill-opacity="0.18" stroke="#e8231f" stroke-opacity="0.23" stroke-width="0.3"/>
<rect x="425.35" y="87.55" width="2.80" height="2.35" fill="#e8231f" fill-opacity="0.4" stroke="#e8231f" stroke-opacity="0.45" stroke-width="0.3"/>
<rect x="431.55" y="87.55" width="2.80" height="2.35" fill="#e8231f" fill-opacity="0.4" stroke="#e8231f" stroke-opacity="0.45" stroke-width="0.3"/>
<rect x="440.85" y="90.20" width="2.80" height="2.35" fill="#e8231f" fill-opacity="0.18" stroke="#e8231f" stroke-opacity="0.23" stroke-width="0.3"/>
<rect x="453.25" y="87.55" width="2.80" height="2.35" fill="#e8231f" fill-opacity="0.18" stroke="#e8231f" stroke-opacity="0.23" stroke-width="0.3"/>
<rect x="453.25" y="90.20" width="2.80" height="2.35" fill="#e8231f" fill-opacity="0.18" stroke="#e8231f" stroke-opacity="0.23" stroke-width="0.3"/>
<rect x="459.45" y="90.20" width="2.80" height="2.35" fill="#e8231f" fill-opacity="0.18" stroke="#e8231f" stroke-opacity="0.23" stroke-width="0.3"/>
<rect x="431.55" y="90.20" width="2.80" height="2.35" fill="#e8231f" fill-opacity="0.4" stroke="#e8231f" stroke-opacity="0.45" stroke-width="0.3"/>
<rect x="434.65" y="90.20" width="2.80" height="2.35" fill="#e8231f" fill-opacity="0.4" stroke="#e8231f" stroke-opacity="0.45" stroke-width="0.3"/>
<rect x="431.55" y="92.85" width="2.80" height="2.35" fill="#e8231f" fill-opacity="0.4" stroke="#e8231f" stroke-opacity="0.45" stroke-width="0.3"/>
<rect x="443.95" y="92.85" width="2.80" height="2.35" fill="#e8231f" fill-opacity="0.18" stroke="#e8231f" stroke-opacity="0.23" stroke-width="0.3"/>
<rect x="447.05" y="95.50" width="2.80" height="2.35" fill="#e8231f" fill-opacity="0.18" stroke="#e8231f" stroke-opacity="0.23" stroke-width="0.3"/>
<rect x="434.65" y="95.50" width="2.80" height="2.35" fill="#e8231f" fill-opacity="0.18" stroke="#e8231f" stroke-opacity="0.23" stroke-width="0.3"/>
<rect x="437.75" y="95.50" width="2.80" height="2.35" fill="#e8231f" fill-opacity="0.18" stroke="#e8231f" stroke-opacity="0.23" stroke-width="0.3"/>
<rect x="456.35" y="95.50" width="2.80" height="2.35" fill="#e8231f" fill-opacity="0.18" stroke="#e8231f" stroke-opacity="0.23" stroke-width="0.3"/>
<rect x="447.05" y="100.80" width="2.80" height="2.35" fill="#e8231f" fill-opacity="0.18" stroke="#e8231f" stroke-opacity="0.23" stroke-width="0.3"/>
<rect x="465.65" y="100.80" width="2.80" height="2.35" fill="#e8231f" fill-opacity="0.18" stroke="#e8231f" stroke-opacity="0.23" stroke-width="0.3"/>
<rect x="400.55" y="55.75" width="2.80" height="2.35" fill="#e8231f" fill-opacity="0.18" stroke="#e8231f" stroke-opacity="0.23" stroke-width="0.3"/>
<rect x="409.85" y="58.40" width="2.80" height="2.35" fill="#e8231f" fill-opacity="0.18" stroke="#e8231f" stroke-opacity="0.23" stroke-width="0.3"/>
<rect x="409.85" y="61.05" width="2.80" height="2.35" fill="#e8231f" fill-opacity="0.18" stroke="#e8231f" stroke-opacity="0.23" stroke-width="0.3"/>
<rect x="416.05" y="63.70" width="2.80" height="2.35" fill="#e8231f" fill-opacity="0.18" stroke="#e8231f" stroke-opacity="0.23" stroke-width="0.3"/>
<rect x="419.15" y="74.30" width="2.80" height="2.35" fill="#e8231f" fill-opacity="0.4" stroke="#e8231f" stroke-opacity="0.45" stroke-width="0.3"/>
<rect x="425.35" y="79.60" width="2.80" height="2.35" fill="#e8231f" fill-opacity="0.85" stroke="#e8231f" stroke-opacity="0.90" stroke-width="0.3"/>
<rect x="425.35" y="84.90" width="2.80" height="2.35" fill="#e8231f" fill-opacity="0.4" stroke="#e8231f" stroke-opacity="0.45" stroke-width="0.3"/>
<rect x="434.65" y="74.30" width="2.80" height="2.35" fill="#e8231f" fill-opacity="0.18" stroke="#e8231f" stroke-opacity="0.23" stroke-width="0.3"/>
<rect x="434.65" y="76.95" width="2.80" height="2.35" fill="#e8231f" fill-opacity="0.18" stroke="#e8231f" stroke-opacity="0.23" stroke-width="0.3"/>
<rect x="434.65" y="79.60" width="2.80" height="2.35" fill="#e8231f" fill-opacity="0.18" stroke="#e8231f" stroke-opacity="0.23" stroke-width="0.3"/>
<rect x="434.65" y="82.25" width="2.80" height="2.35" fill="#e8231f" fill-opacity="0.18" stroke="#e8231f" stroke-opacity="0.23" stroke-width="0.3"/>
<rect x="434.65" y="84.90" width="2.80" height="2.35" fill="#e8231f" fill-opacity="0.18" stroke="#e8231f" stroke-opacity="0.23" stroke-width="0.3"/>
<rect x="434.65" y="87.55" width="2.80" height="2.35" fill="#e8231f" fill-opacity="0.18" stroke="#e8231f" stroke-opacity="0.23" stroke-width="0.3"/>
<rect x="409.85" y="84.90" width="2.80" height="2.35" fill="#e8231f" fill-opacity="0.18" stroke="#e8231f" stroke-opacity="0.23" stroke-width="0.3"/>
<rect x="428.45" y="87.55" width="2.80" height="2.35" fill="#e8231f" fill-opacity="0.18" stroke="#e8231f" stroke-opacity="0.23" stroke-width="0.3"/>
<rect x="437.75" y="98.15" width="2.80" height="2.35" fill="#e8231f" fill-opacity="0.4" stroke="#e8231f" stroke-opacity="0.45" stroke-width="0.3"/>
<rect x="425.35" y="90.20" width="2.80" height="2.35" fill="#e8231f" fill-opacity="0.18" stroke="#e8231f" stroke-opacity="0.23" stroke-width="0.3"/>
<rect x="428.45" y="92.85" width="2.80" height="2.35" fill="#e8231f" fill-opacity="0.18" stroke="#e8231f" stroke-opacity="0.23" stroke-width="0.3"/>
<rect x="422.25" y="79.60" width="2.80" height="2.35" fill="#e8231f" fill-opacity="0.8" stroke="#e8231f" stroke-opacity="0.85" stroke-width="0.3"/>
<rect x="419.15" y="82.25" width="2.80" height="2.35" fill="#e8231f" fill-opacity="0.5" stroke="#e8231f" stroke-opacity="0.55" stroke-width="0.3"/>
<rect x="400.55" y="61.05" width="2.80" height="2.35" fill="#e8231f" fill-opacity="0.11" stroke="#e8231f" stroke-opacity="0.16" stroke-width="0.3"/>
<rect x="403.65" y="63.70" width="2.80" height="2.35" fill="#e8231f" fill-opacity="0.11" stroke="#e8231f" stroke-opacity="0.16" stroke-width="0.3"/>
<rect x="403.65" y="66.35" width="2.80" height="2.35" fill="#e8231f" fill-opacity="0.11" stroke="#e8231f" stroke-opacity="0.16" stroke-width="0.3"/>
<rect x="406.75" y="63.70" width="2.80" height="2.35" fill="#e8231f" fill-opacity="0.11" stroke="#e8231f" stroke-opacity="0.16" stroke-width="0.3"/>
<rect x="406.75" y="66.35" width="2.80" height="2.35" fill="#e8231f" fill-opacity="0.11" stroke="#e8231f" stroke-opacity="0.16" stroke-width="0.3"/>
<rect x="409.85" y="71.65" width="2.80" height="2.35" fill="#e8231f" fill-opacity="0.11" stroke="#e8231f" stroke-opacity="0.16" stroke-width="0.3"/>
<rect x="412.95" y="69.00" width="2.80" height="2.35" fill="#e8231f" fill-opacity="0.11" stroke="#e8231f" stroke-opacity="0.16" stroke-width="0.3"/>
<rect x="419.15" y="69.00" width="2.80" height="2.35" fill="#e8231f" fill-opacity="0.11" stroke="#e8231f" stroke-opacity="0.16" stroke-width="0.3"/>
<rect x="425.35" y="71.65" width="2.80" height="2.35" fill="#e8231f" fill-opacity="0.11" stroke="#e8231f" stroke-opacity="0.16" stroke-width="0.3"/>
<rect x="428.45" y="76.95" width="2.80" height="2.35" fill="#e8231f" fill-opacity="0.11" stroke="#e8231f" stroke-opacity="0.16" stroke-width="0.3"/>
<rect x="431.55" y="79.60" width="2.80" height="2.35" fill="#e8231f" fill-opacity="0.11" stroke="#e8231f" stroke-opacity="0.16" stroke-width="0.3"/>
<rect x="443.95" y="90.20" width="2.80" height="2.35" fill="#e8231f" fill-opacity="0.11" stroke="#e8231f" stroke-opacity="0.16" stroke-width="0.3"/>
<rect x="447.05" y="90.20" width="2.80" height="2.35" fill="#e8231f" fill-opacity="0.11" stroke="#e8231f" stroke-opacity="0.16" stroke-width="0.3"/>
<rect x="450.15" y="95.50" width="2.80" height="2.35" fill="#e8231f" fill-opacity="0.11" stroke="#e8231f" stroke-opacity="0.16" stroke-width="0.3"/>
<clipPath id="ctd"><rect x="502.6" y="2.1" width="108.1" height="27"/></clipPath><g clip-path="url(#ctd)">
<polygon points="502.60,28.60 502.60,28.20 511.00,28.20 511.00,27.60 515.80,27.60 515.80,28.20 520.50,28.20 520.50,27.90 524.20,27.90 524.20,22.10 527.40,22.10 527.40,20.00 530.50,20.00 530.50,17.40 533.70,17.40 533.70,15.80 539.50,15.80 539.50,10.50 545.80,10.50 545.80,16.30 549.00,16.30 549.00,20.50 551.60,20.50 551.60,7.40 554.70,7.40 554.70,6.30 556.60,6.30 556.60,4.70 558.70,4.70 558.70,3.20 561.40,3.20 561.40,10.00 564.00,10.00 564.00,9.50 567.20,9.50 567.20,20.50 570.30,20.50 570.30,11.00 574.00,11.00 574.00,17.90 576.60,17.90 576.60,15.80 579.30,15.80 579.30,22.10 581.90,22.10 581.90,24.70 584.50,24.70 584.50,27.90 586.10,27.90 586.10,28.20 610.70,28.20 610.70,28.60" fill="#6c7cee" />
<polyline points="502.60,28.60 502.60,28.20 511.00,28.20 511.00,27.60 515.80,27.60 515.80,28.20 520.50,28.20 520.50,27.90 524.20,27.90 524.20,22.10 527.40,22.10 527.40,20.00 530.50,20.00 530.50,17.40 533.70,17.40 533.70,15.80 539.50,15.80 539.50,10.50 545.80,10.50 545.80,16.30 549.00,16.30 549.00,20.50 551.60,20.50 551.60,7.40 554.70,7.40 554.70,6.30 556.60,6.30 556.60,4.70 558.70,4.70 558.70,3.20 561.40,3.20 561.40,10.00 564.00,10.00 564.00,9.50 567.20,9.50 567.20,20.50 570.30,20.50 570.30,11.00 574.00,11.00 574.00,17.90 576.60,17.90 576.60,15.80 579.30,15.80 579.30,22.10 581.90,22.10 581.90,24.70 584.50,24.70 584.50,27.90 586.10,27.90 586.10,28.20 610.70,28.20 610.70,28.60" fill="none" stroke="#000" stroke-width="1.9" stroke-linejoin="miter"/>
</g>
<clipPath id="crd"><rect x="610.7" y="29.1" width="26.6" height="94.1"/></clipPath><g clip-path="url(#crd)">
<polygon points="611.10,29.10 610.70,29.10 610.70,41.50 611.90,41.50 611.90,46.50 612.40,46.50 612.40,53.30 613.60,53.30 613.60,58.30 615.30,58.30 615.30,63.40 622.00,63.40 622.00,65.90 623.70,65.90 623.70,70.10 625.40,70.10 625.40,73.50 627.00,73.50 627.00,76.00 624.40,76.00 624.40,78.60 621.80,78.60 621.80,82.10 627.90,82.10 627.90,84.80 634.90,84.80 634.90,88.30 625.30,88.30 625.30,90.90 627.00,90.90 627.00,94.40 622.70,94.40 622.70,97.90 619.20,97.90 619.20,101.40 626.20,101.40 626.20,104.90 613.00,104.90 613.00,107.60 612.10,107.60 612.10,111.10 611.30,111.10 611.30,113.70 610.70,113.70 610.70,123.20 611.10,123.20" fill="#6c7cee" />
<polyline points="611.10,29.10 610.70,29.10 610.70,41.50 611.90,41.50 611.90,46.50 612.40,46.50 612.40,53.30 613.60,53.30 613.60,58.30 615.30,58.30 615.30,63.40 622.00,63.40 622.00,65.90 623.70,65.90 623.70,70.10 625.40,70.10 625.40,73.50 627.00,73.50 627.00,76.00 624.40,76.00 624.40,78.60 621.80,78.60 621.80,82.10 627.90,82.10 627.90,84.80 634.90,84.80 634.90,88.30 625.30,88.30 625.30,90.90 627.00,90.90 627.00,94.40 622.70,94.40 622.70,97.90 619.20,97.90 619.20,101.40 626.20,101.40 626.20,104.90 613.00,104.90 613.00,107.60 612.10,107.60 612.10,111.10 611.30,111.10 611.30,113.70 610.70,113.70 610.70,123.20 611.10,123.20" fill="none" stroke="#000" stroke-width="1.9" stroke-linejoin="miter"/>
</g>
<rect x="502.60" y="2.10" width="108.10" height="27.00" fill="none" stroke="#262626" stroke-width="0.85"/>
<rect x="610.70" y="29.10" width="26.60" height="94.10" fill="none" stroke="#262626" stroke-width="0.85"/>
<rect x="502.60" y="29.10" width="108.10" height="94.10" fill="none" stroke="#262626" stroke-width="0.85"/>
<line x1="520.80" y1="0.00" x2="520.80" y2="2.10" stroke="#262626" stroke-width="0.85"/>
<line x1="557.10" y1="0.00" x2="557.10" y2="2.10" stroke="#262626" stroke-width="0.85"/>
<line x1="593.40" y1="0.00" x2="593.40" y2="2.10" stroke="#262626" stroke-width="0.85"/>
<line x1="637.30" y1="44.50" x2="640.00" y2="44.50" stroke="#262626" stroke-width="0.85"/>
<line x1="637.30" y1="60.26" x2="640.00" y2="60.26" stroke="#262626" stroke-width="0.85"/>
<line x1="637.30" y1="76.02" x2="640.00" y2="76.02" stroke="#262626" stroke-width="0.85"/>
<line x1="637.30" y1="91.78" x2="640.00" y2="91.78" stroke="#262626" stroke-width="0.85"/>
<line x1="637.30" y1="107.54" x2="640.00" y2="107.54" stroke="#262626" stroke-width="0.85"/>
<line x1="637.30" y1="123.30" x2="640.00" y2="123.30" stroke="#262626" stroke-width="0.85"/>
<line x1="500.00" y1="44.50" x2="502.60" y2="44.50" stroke="#262626" stroke-width="0.85"/>
<text x="498.10" y="47.05" font-size="7.1" text-anchor="end" >20</text>
<line x1="500.00" y1="60.26" x2="502.60" y2="60.26" stroke="#262626" stroke-width="0.85"/>
<text x="498.10" y="62.81" font-size="7.1" text-anchor="end" >10</text>
<line x1="500.00" y1="76.02" x2="502.60" y2="76.02" stroke="#262626" stroke-width="0.85"/>
<text x="498.10" y="78.57" font-size="7.1" text-anchor="end" >0</text>
<line x1="500.00" y1="91.78" x2="502.60" y2="91.78" stroke="#262626" stroke-width="0.85"/>
<text x="498.10" y="94.33" font-size="7.1" text-anchor="end" >&#8722;10</text>
<line x1="500.00" y1="107.54" x2="502.60" y2="107.54" stroke="#262626" stroke-width="0.85"/>
<text x="498.10" y="110.09" font-size="7.1" text-anchor="end" >&#8722;20</text>
<line x1="500.00" y1="123.30" x2="502.60" y2="123.30" stroke="#262626" stroke-width="0.85"/>
<text x="498.10" y="125.85" font-size="7.1" text-anchor="end" >&#8722;30</text>
<line x1="520.80" y1="123.20" x2="520.80" y2="125.80" stroke="#262626" stroke-width="0.85"/>
<text x="520.80" y="134.60" font-size="7.1" text-anchor="middle" >&#8722;20</text>
<line x1="557.10" y1="123.20" x2="557.10" y2="125.80" stroke="#262626" stroke-width="0.85"/>
<text x="557.10" y="134.60" font-size="7.1" text-anchor="middle" >0</text>
<line x1="593.40" y1="123.20" x2="593.40" y2="125.80" stroke="#262626" stroke-width="0.85"/>
<text x="593.40" y="134.60" font-size="7.1" text-anchor="middle" >20</text>
<text x="606.40" y="39.30" font-size="8.2" text-anchor="end" font-weight="bold">(d)</text>
<text x="505.90" y="120.60" font-size="7.4" text-anchor="start" >Quantum generated (IonQ)</text>
<g transform="translate(541.90,145.30)">
<text x="0.00" y="0.00" font-size="8" font-style="italic">&#8706;</text>
<text x="3.30" y="1.80" font-size="5.6" font-style="italic">t</text>
<text x="5.00" y="0.00" font-size="8" font-style="italic">X</text>
<text x="10.60" y="-3.20" font-size="5.6">2</text>
<text x="10.60" y="1.80" font-size="5.6" font-style="italic">t</text>
<text x="16.90" y="0.00" font-size="8">(%)</text>
</g>
<rect x="512.05" y="42.50" width="2.80" height="2.35" fill="#2a3fd0" fill-opacity="0.18" stroke="#2a3fd0" stroke-opacity="0.23" stroke-width="0.3"/>
<rect x="527.55" y="50.45" width="2.80" height="2.35" fill="#2a3fd0" fill-opacity="0.18" stroke="#2a3fd0" stroke-opacity="0.23" stroke-width="0.3"/>
<rect x="521.35" y="53.10" width="2.80" height="2.35" fill="#2a3fd0" fill-opacity="0.18" stroke="#2a3fd0" stroke-opacity="0.23" stroke-width="0.3"/>
<rect x="530.65" y="53.10" width="2.80" height="2.35" fill="#2a3fd0" fill-opacity="0.18" stroke="#2a3fd0" stroke-opacity="0.23" stroke-width="0.3"/>
<rect x="524.45" y="55.75" width="2.80" height="2.35" fill="#2a3fd0" fill-opacity="0.18" stroke="#2a3fd0" stroke-opacity="0.23" stroke-width="0.3"/>
<rect x="527.55" y="58.40" width="2.80" height="2.35" fill="#2a3fd0" fill-opacity="0.18" stroke="#2a3fd0" stroke-opacity="0.23" stroke-width="0.3"/>
<rect x="536.85" y="58.40" width="2.80" height="2.35" fill="#2a3fd0" fill-opacity="0.18" stroke="#2a3fd0" stroke-opacity="0.23" stroke-width="0.3"/>
<rect x="539.95" y="55.75" width="2.80" height="2.35" fill="#2a3fd0" fill-opacity="0.18" stroke="#2a3fd0" stroke-opacity="0.23" stroke-width="0.3"/>
<rect x="524.45" y="61.05" width="2.80" height="2.35" fill="#2a3fd0" fill-opacity="0.18" stroke="#2a3fd0" stroke-opacity="0.23" stroke-width="0.3"/>
<rect x="527.55" y="61.05" width="2.80" height="2.35" fill="#2a3fd0" fill-opacity="0.18" stroke="#2a3fd0" stroke-opacity="0.23" stroke-width="0.3"/>
<rect x="530.65" y="61.05" width="2.80" height="2.35" fill="#2a3fd0" fill-opacity="0.18" stroke="#2a3fd0" stroke-opacity="0.23" stroke-width="0.3"/>
<rect x="533.75" y="61.05" width="2.80" height="2.35" fill="#2a3fd0" fill-opacity="0.18" stroke="#2a3fd0" stroke-opacity="0.23" stroke-width="0.3"/>
<rect x="524.45" y="63.70" width="2.80" height="2.35" fill="#2a3fd0" fill-opacity="0.18" stroke="#2a3fd0" stroke-opacity="0.23" stroke-width="0.3"/>
<rect x="530.65" y="63.70" width="2.80" height="2.35" fill="#2a3fd0" fill-opacity="0.18" stroke="#2a3fd0" stroke-opacity="0.23" stroke-width="0.3"/>
<rect x="543.05" y="63.70" width="2.80" height="2.35" fill="#2a3fd0" fill-opacity="0.4" stroke="#2a3fd0" stroke-opacity="0.45" stroke-width="0.3"/>
<rect x="549.25" y="63.70" width="2.80" height="2.35" fill="#2a3fd0" fill-opacity="0.18" stroke="#2a3fd0" stroke-opacity="0.23" stroke-width="0.3"/>
<rect x="555.45" y="63.70" width="2.80" height="2.35" fill="#2a3fd0" fill-opacity="0.4" stroke="#2a3fd0" stroke-opacity="0.45" stroke-width="0.3"/>
<rect x="558.55" y="63.70" width="2.80" height="2.35" fill="#2a3fd0" fill-opacity="0.18" stroke="#2a3fd0" stroke-opacity="0.23" stroke-width="0.3"/>
<rect x="564.75" y="63.70" width="2.80" height="2.35" fill="#2a3fd0" fill-opacity="0.18" stroke="#2a3fd0" stroke-opacity="0.23" stroke-width="0.3"/>
<rect x="524.45" y="66.35" width="2.80" height="2.35" fill="#2a3fd0" fill-opacity="0.18" stroke="#2a3fd0" stroke-opacity="0.23" stroke-width="0.3"/>
<rect x="527.55" y="66.35" width="2.80" height="2.35" fill="#2a3fd0" fill-opacity="0.18" stroke="#2a3fd0" stroke-opacity="0.23" stroke-width="0.3"/>
<rect x="530.65" y="66.35" width="2.80" height="2.35" fill="#2a3fd0" fill-opacity="0.18" stroke="#2a3fd0" stroke-opacity="0.23" stroke-width="0.3"/>
<rect x="536.85" y="66.35" width="2.80" height="2.35" fill="#2a3fd0" fill-opacity="0.4" stroke="#2a3fd0" stroke-opacity="0.45" stroke-width="0.3"/>
<rect x="539.95" y="66.35" width="2.80" height="2.35" fill="#2a3fd0" fill-opacity="0.18" stroke="#2a3fd0" stroke-opacity="0.23" stroke-width="0.3"/>
<rect x="552.35" y="66.35" width="2.80" height="2.35" fill="#2a3fd0" fill-opacity="0.18" stroke="#2a3fd0" stroke-opacity="0.23" stroke-width="0.3"/>
<rect x="527.55" y="69.00" width="2.80" height="2.35" fill="#2a3fd0" fill-opacity="0.18" stroke="#2a3fd0" stroke-opacity="0.23" stroke-width="0.3"/>
<rect x="530.65" y="69.00" width="2.80" height="2.35" fill="#2a3fd0" fill-opacity="0.18" stroke="#2a3fd0" stroke-opacity="0.23" stroke-width="0.3"/>
<rect x="533.75" y="69.00" width="2.80" height="2.35" fill="#2a3fd0" fill-opacity="0.18" stroke="#2a3fd0" stroke-opacity="0.23" stroke-width="0.3"/>
<rect x="543.05" y="69.00" width="2.80" height="2.35" fill="#2a3fd0" fill-opacity="0.18" stroke="#2a3fd0" stroke-opacity="0.23" stroke-width="0.3"/>
<rect x="552.35" y="69.00" width="2.80" height="2.35" fill="#2a3fd0" fill-opacity="0.4" stroke="#2a3fd0" stroke-opacity="0.45" stroke-width="0.3"/>
<rect x="558.55" y="69.00" width="2.80" height="2.35" fill="#2a3fd0" fill-opacity="0.18" stroke="#2a3fd0" stroke-opacity="0.23" stroke-width="0.3"/>
<rect x="564.75" y="69.00" width="2.80" height="2.35" fill="#2a3fd0" fill-opacity="0.18" stroke="#2a3fd0" stroke-opacity="0.23" stroke-width="0.3"/>
<rect x="527.55" y="71.65" width="2.80" height="2.35" fill="#2a3fd0" fill-opacity="0.18" stroke="#2a3fd0" stroke-opacity="0.23" stroke-width="0.3"/>
<rect x="536.85" y="71.65" width="2.80" height="2.35" fill="#2a3fd0" fill-opacity="0.8" stroke="#2a3fd0" stroke-opacity="0.85" stroke-width="0.3"/>
<rect x="546.15" y="71.65" width="2.80" height="2.35" fill="#2a3fd0" fill-opacity="0.4" stroke="#2a3fd0" stroke-opacity="0.45" stroke-width="0.3"/>
<rect x="552.35" y="71.65" width="2.80" height="2.35" fill="#2a3fd0" fill-opacity="0.4" stroke="#2a3fd0" stroke-opacity="0.45" stroke-width="0.3"/>
<rect x="564.75" y="71.65" width="2.80" height="2.35" fill="#2a3fd0" fill-opacity="0.18" stroke="#2a3fd0" stroke-opacity="0.23" stroke-width="0.3"/>
<rect x="524.45" y="74.30" width="2.80" height="2.35" fill="#2a3fd0" fill-opacity="0.18" stroke="#2a3fd0" stroke-opacity="0.23" stroke-width="0.3"/>
<rect x="539.95" y="74.30" width="2.80" height="2.35" fill="#2a3fd0" fill-opacity="0.18" stroke="#2a3fd0" stroke-opacity="0.23" stroke-width="0.3"/>
<rect x="555.45" y="74.30" width="2.80" height="2.35" fill="#2a3fd0" fill-opacity="0.8" stroke="#2a3fd0" stroke-opacity="0.85" stroke-width="0.3"/>
<rect x="570.95" y="74.30" width="2.80" height="2.35" fill="#2a3fd0" fill-opacity="0.18" stroke="#2a3fd0" stroke-opacity="0.23" stroke-width="0.3"/>
<rect x="574.05" y="74.30" width="2.80" height="2.35" fill="#2a3fd0" fill-opacity="0.18" stroke="#2a3fd0" stroke-opacity="0.23" stroke-width="0.3"/>
<rect x="533.75" y="74.30" width="2.80" height="2.35" fill="#2a3fd0" fill-opacity="0.18" stroke="#2a3fd0" stroke-opacity="0.23" stroke-width="0.3"/>
<rect x="543.05" y="76.95" width="2.80" height="2.35" fill="#2a3fd0" fill-opacity="0.8" stroke="#2a3fd0" stroke-opacity="0.85" stroke-width="0.3"/>
<rect x="546.15" y="74.30" width="2.80" height="2.35" fill="#2a3fd0" fill-opacity="0.18" stroke="#2a3fd0" stroke-opacity="0.23" stroke-width="0.3"/>
<rect x="552.35" y="74.30" width="2.80" height="2.35" fill="#2a3fd0" fill-opacity="0.18" stroke="#2a3fd0" stroke-opacity="0.23" stroke-width="0.3"/>
<rect x="558.55" y="76.95" width="2.80" height="2.35" fill="#2a3fd0" fill-opacity="0.4" stroke="#2a3fd0" stroke-opacity="0.45" stroke-width="0.3"/>
<rect x="564.75" y="74.30" width="2.80" height="2.35" fill="#2a3fd0" fill-opacity="0.18" stroke="#2a3fd0" stroke-opacity="0.23" stroke-width="0.3"/>
<rect x="530.65" y="79.60" width="2.80" height="2.35" fill="#2a3fd0" fill-opacity="0.18" stroke="#2a3fd0" stroke-opacity="0.23" stroke-width="0.3"/>
<rect x="539.95" y="79.60" width="2.80" height="2.35" fill="#2a3fd0" fill-opacity="0.4" stroke="#2a3fd0" stroke-opacity="0.45" stroke-width="0.3"/>
<rect x="546.15" y="82.25" width="2.80" height="2.35" fill="#2a3fd0" fill-opacity="0.18" stroke="#2a3fd0" stroke-opacity="0.23" stroke-width="0.3"/>
<rect x="552.35" y="79.60" width="2.80" height="2.35" fill="#2a3fd0" fill-opacity="0.4" stroke="#2a3fd0" stroke-opacity="0.45" stroke-width="0.3"/>
<rect x="558.55" y="82.25" width="2.80" height="2.35" fill="#2a3fd0" fill-opacity="0.18" stroke="#2a3fd0" stroke-opacity="0.23" stroke-width="0.3"/>
<rect x="564.75" y="79.60" width="2.80" height="2.35" fill="#2a3fd0" fill-opacity="0.18" stroke="#2a3fd0" stroke-opacity="0.23" stroke-width="0.3"/>
<rect x="574.05" y="79.60" width="2.80" height="2.35" fill="#2a3fd0" fill-opacity="0.18" stroke="#2a3fd0" stroke-opacity="0.23" stroke-width="0.3"/>
<rect x="533.75" y="82.25" width="2.80" height="2.35" fill="#2a3fd0" fill-opacity="0.18" stroke="#2a3fd0" stroke-opacity="0.23" stroke-width="0.3"/>
<rect x="539.95" y="84.90" width="2.80" height="2.35" fill="#2a3fd0" fill-opacity="0.4" stroke="#2a3fd0" stroke-opacity="0.45" stroke-width="0.3"/>
<rect x="552.35" y="82.25" width="2.80" height="2.35" fill="#2a3fd0" fill-opacity="0.18" stroke="#2a3fd0" stroke-opacity="0.23" stroke-width="0.3"/>
<rect x="564.75" y="82.25" width="2.80" height="2.35" fill="#2a3fd0" fill-opacity="0.18" stroke="#2a3fd0" stroke-opacity="0.23" stroke-width="0.3"/>
<rect x="574.05" y="82.25" width="2.80" height="2.35" fill="#2a3fd0" fill-opacity="0.4" stroke="#2a3fd0" stroke-opacity="0.45" stroke-width="0.3"/>
<rect x="552.35" y="87.55" width="2.80" height="2.35" fill="#2a3fd0" fill-opacity="0.4" stroke="#2a3fd0" stroke-opacity="0.45" stroke-width="0.3"/>
<rect x="558.55" y="84.90" width="2.80" height="2.35" fill="#2a3fd0" fill-opacity="0.8" stroke="#2a3fd0" stroke-opacity="0.85" stroke-width="0.3"/>
<rect x="561.65" y="84.90" width="2.80" height="2.35" fill="#2a3fd0" fill-opacity="0.8" stroke="#2a3fd0" stroke-opacity="0.85" stroke-width="0.3"/>
<rect x="570.95" y="84.90" width="2.80" height="2.35" fill="#2a3fd0" fill-opacity="0.4" stroke="#2a3fd0" stroke-opacity="0.45" stroke-width="0.3"/>
<rect x="577.15" y="84.90" width="2.80" height="2.35" fill="#2a3fd0" fill-opacity="0.18" stroke="#2a3fd0" stroke-opacity="0.23" stroke-width="0.3"/>
<rect x="533.75" y="87.55" width="2.80" height="2.35" fill="#2a3fd0" fill-opacity="0.4" stroke="#2a3fd0" stroke-opacity="0.45" stroke-width="0.3"/>
<rect x="539.95" y="87.55" width="2.80" height="2.35" fill="#2a3fd0" fill-opacity="0.18" stroke="#2a3fd0" stroke-opacity="0.23" stroke-width="0.3"/>
<rect x="546.15" y="87.55" width="2.80" height="2.35" fill="#2a3fd0" fill-opacity="0.18" stroke="#2a3fd0" stroke-opacity="0.23" stroke-width="0.3"/>
<rect x="558.55" y="87.55" width="2.80" height="2.35" fill="#2a3fd0" fill-opacity="0.18" stroke="#2a3fd0" stroke-opacity="0.23" stroke-width="0.3"/>
<rect x="577.15" y="87.55" width="2.80" height="2.35" fill="#2a3fd0" fill-opacity="0.4" stroke="#2a3fd0" stroke-opacity="0.45" stroke-width="0.3"/>
<rect x="536.85" y="90.20" width="2.80" height="2.35" fill="#2a3fd0" fill-opacity="0.18" stroke="#2a3fd0" stroke-opacity="0.23" stroke-width="0.3"/>
<rect x="552.35" y="90.20" width="2.80" height="2.35" fill="#2a3fd0" fill-opacity="0.4" stroke="#2a3fd0" stroke-opacity="0.45" stroke-width="0.3"/>
<rect x="561.65" y="90.20" width="2.80" height="2.35" fill="#2a3fd0" fill-opacity="0.8" stroke="#2a3fd0" stroke-opacity="0.85" stroke-width="0.3"/>
<rect x="567.85" y="90.20" width="2.80" height="2.35" fill="#2a3fd0" fill-opacity="0.4" stroke="#2a3fd0" stroke-opacity="0.45" stroke-width="0.3"/>
<rect x="574.05" y="90.20" width="2.80" height="2.35" fill="#2a3fd0" fill-opacity="0.18" stroke="#2a3fd0" stroke-opacity="0.23" stroke-width="0.3"/>
<rect x="533.75" y="92.85" width="2.80" height="2.35" fill="#2a3fd0" fill-opacity="0.18" stroke="#2a3fd0" stroke-opacity="0.23" stroke-width="0.3"/>
<rect x="555.45" y="92.85" width="2.80" height="2.35" fill="#2a3fd0" fill-opacity="0.4" stroke="#2a3fd0" stroke-opacity="0.45" stroke-width="0.3"/>
<rect x="561.65" y="92.85" width="2.80" height="2.35" fill="#2a3fd0" fill-opacity="0.4" stroke="#2a3fd0" stroke-opacity="0.45" stroke-width="0.3"/>
<rect x="564.75" y="92.85" width="2.80" height="2.35" fill="#2a3fd0" fill-opacity="0.8" stroke="#2a3fd0" stroke-opacity="0.85" stroke-width="0.3"/>
<rect x="567.85" y="92.85" width="2.80" height="2.35" fill="#2a3fd0" fill-opacity="0.18" stroke="#2a3fd0" stroke-opacity="0.23" stroke-width="0.3"/>
<rect x="577.15" y="92.85" width="2.80" height="2.35" fill="#2a3fd0" fill-opacity="0.8" stroke="#2a3fd0" stroke-opacity="0.85" stroke-width="0.3"/>
<rect x="580.25" y="92.85" width="2.80" height="2.35" fill="#2a3fd0" fill-opacity="0.18" stroke="#2a3fd0" stroke-opacity="0.23" stroke-width="0.3"/>
<rect x="552.35" y="95.50" width="2.80" height="2.35" fill="#2a3fd0" fill-opacity="0.18" stroke="#2a3fd0" stroke-opacity="0.23" stroke-width="0.3"/>
<rect x="561.65" y="95.50" width="2.80" height="2.35" fill="#2a3fd0" fill-opacity="0.4" stroke="#2a3fd0" stroke-opacity="0.45" stroke-width="0.3"/>
<rect x="564.75" y="95.50" width="2.80" height="2.35" fill="#2a3fd0" fill-opacity="0.18" stroke="#2a3fd0" stroke-opacity="0.23" stroke-width="0.3"/>
<rect x="574.05" y="95.50" width="2.80" height="2.35" fill="#2a3fd0" fill-opacity="0.18" stroke="#2a3fd0" stroke-opacity="0.23" stroke-width="0.3"/>
<rect x="583.35" y="95.50" width="2.80" height="2.35" fill="#2a3fd0" fill-opacity="0.18" stroke="#2a3fd0" stroke-opacity="0.23" stroke-width="0.3"/>
<rect x="539.95" y="100.80" width="2.80" height="2.35" fill="#2a3fd0" fill-opacity="0.18" stroke="#2a3fd0" stroke-opacity="0.23" stroke-width="0.3"/>
<rect x="564.75" y="100.80" width="2.80" height="2.35" fill="#2a3fd0" fill-opacity="0.4" stroke="#2a3fd0" stroke-opacity="0.45" stroke-width="0.3"/>
<rect x="570.95" y="100.80" width="2.80" height="2.35" fill="#2a3fd0" fill-opacity="0.18" stroke="#2a3fd0" stroke-opacity="0.23" stroke-width="0.3"/>
<rect x="543.05" y="103.45" width="2.80" height="2.35" fill="#2a3fd0" fill-opacity="0.18" stroke="#2a3fd0" stroke-opacity="0.23" stroke-width="0.3"/>
<rect x="549.25" y="103.45" width="2.80" height="2.35" fill="#2a3fd0" fill-opacity="0.18" stroke="#2a3fd0" stroke-opacity="0.23" stroke-width="0.3"/>
<rect x="555.45" y="103.45" width="2.80" height="2.35" fill="#2a3fd0" fill-opacity="0.18" stroke="#2a3fd0" stroke-opacity="0.23" stroke-width="0.3"/>
<rect x="567.85" y="100.80" width="2.80" height="2.35" fill="#2a3fd0" fill-opacity="0.8" stroke="#2a3fd0" stroke-opacity="0.85" stroke-width="0.3"/>
<rect x="574.05" y="103.45" width="2.80" height="2.35" fill="#2a3fd0" fill-opacity="0.4" stroke="#2a3fd0" stroke-opacity="0.45" stroke-width="0.3"/>
<rect x="577.15" y="103.45" width="2.80" height="2.35" fill="#2a3fd0" fill-opacity="0.8" stroke="#2a3fd0" stroke-opacity="0.85" stroke-width="0.3"/>
<rect x="580.25" y="103.45" width="2.80" height="2.35" fill="#2a3fd0" fill-opacity="0.18" stroke="#2a3fd0" stroke-opacity="0.23" stroke-width="0.3"/>
<rect x="583.35" y="106.10" width="2.80" height="2.35" fill="#2a3fd0" fill-opacity="0.18" stroke="#2a3fd0" stroke-opacity="0.23" stroke-width="0.3"/>
<rect x="577.15" y="108.75" width="2.80" height="2.35" fill="#2a3fd0" fill-opacity="0.18" stroke="#2a3fd0" stroke-opacity="0.23" stroke-width="0.3"/>
<rect x="521.35" y="55.75" width="2.80" height="2.35" fill="#2a3fd0" fill-opacity="0.11" stroke="#2a3fd0" stroke-opacity="0.16" stroke-width="0.3"/>
<rect x="524.45" y="50.45" width="2.80" height="2.35" fill="#2a3fd0" fill-opacity="0.11" stroke="#2a3fd0" stroke-opacity="0.16" stroke-width="0.3"/>
<rect x="524.45" y="58.40" width="2.80" height="2.35" fill="#2a3fd0" fill-opacity="0.11" stroke="#2a3fd0" stroke-opacity="0.16" stroke-width="0.3"/>
<rect x="527.55" y="53.10" width="2.80" height="2.35" fill="#2a3fd0" fill-opacity="0.11" stroke="#2a3fd0" stroke-opacity="0.16" stroke-width="0.3"/>
<rect x="527.55" y="63.70" width="2.80" height="2.35" fill="#2a3fd0" fill-opacity="0.11" stroke="#2a3fd0" stroke-opacity="0.16" stroke-width="0.3"/>
<rect x="530.65" y="50.45" width="2.80" height="2.35" fill="#2a3fd0" fill-opacity="0.11" stroke="#2a3fd0" stroke-opacity="0.16" stroke-width="0.3"/>
<rect x="530.65" y="71.65" width="2.80" height="2.35" fill="#2a3fd0" fill-opacity="0.11" stroke="#2a3fd0" stroke-opacity="0.16" stroke-width="0.3"/>
<rect x="533.75" y="58.40" width="2.80" height="2.35" fill="#2a3fd0" fill-opacity="0.11" stroke="#2a3fd0" stroke-opacity="0.16" stroke-width="0.3"/>
<rect x="533.75" y="63.70" width="2.80" height="2.35" fill="#2a3fd0" fill-opacity="0.11" stroke="#2a3fd0" stroke-opacity="0.16" stroke-width="0.3"/>
<rect x="533.75" y="66.35" width="2.80" height="2.35" fill="#2a3fd0" fill-opacity="0.11" stroke="#2a3fd0" stroke-opacity="0.16" stroke-width="0.3"/>
<rect x="536.85" y="61.05" width="2.80" height="2.35" fill="#2a3fd0" fill-opacity="0.11" stroke="#2a3fd0" stroke-opacity="0.16" stroke-width="0.3"/>
<rect x="536.85" y="69.00" width="2.80" height="2.35" fill="#2a3fd0" fill-opacity="0.11" stroke="#2a3fd0" stroke-opacity="0.16" stroke-width="0.3"/>
<rect x="536.85" y="74.30" width="2.80" height="2.35" fill="#2a3fd0" fill-opacity="0.11" stroke="#2a3fd0" stroke-opacity="0.16" stroke-width="0.3"/>
<rect x="539.95" y="63.70" width="2.80" height="2.35" fill="#2a3fd0" fill-opacity="0.11" stroke="#2a3fd0" stroke-opacity="0.16" stroke-width="0.3"/>
<rect x="539.95" y="69.00" width="2.80" height="2.35" fill="#2a3fd0" fill-opacity="0.11" stroke="#2a3fd0" stroke-opacity="0.16" stroke-width="0.3"/>
<rect x="539.95" y="76.95" width="2.80" height="2.35" fill="#2a3fd0" fill-opacity="0.11" stroke="#2a3fd0" stroke-opacity="0.16" stroke-width="0.3"/>
<rect x="543.05" y="58.40" width="2.80" height="2.35" fill="#2a3fd0" fill-opacity="0.11" stroke="#2a3fd0" stroke-opacity="0.16" stroke-width="0.3"/>
<rect x="543.05" y="61.05" width="2.80" height="2.35" fill="#2a3fd0" fill-opacity="0.11" stroke="#2a3fd0" stroke-opacity="0.16" stroke-width="0.3"/>
<rect x="543.05" y="66.35" width="2.80" height="2.35" fill="#2a3fd0" fill-opacity="0.11" stroke="#2a3fd0" stroke-opacity="0.16" stroke-width="0.3"/>
<rect x="543.05" y="71.65" width="2.80" height="2.35" fill="#2a3fd0" fill-opacity="0.11" stroke="#2a3fd0" stroke-opacity="0.16" stroke-width="0.3"/>
<rect x="543.05" y="79.60" width="2.80" height="2.35" fill="#2a3fd0" fill-opacity="0.11" stroke="#2a3fd0" stroke-opacity="0.16" stroke-width="0.3"/>
<rect x="546.15" y="61.05" width="2.80" height="2.35" fill="#2a3fd0" fill-opacity="0.11" stroke="#2a3fd0" stroke-opacity="0.16" stroke-width="0.3"/>
<rect x="546.15" y="63.70" width="2.80" height="2.35" fill="#2a3fd0" fill-opacity="0.11" stroke="#2a3fd0" stroke-opacity="0.16" stroke-width="0.3"/>
<rect x="546.15" y="79.60" width="2.80" height="2.35" fill="#2a3fd0" fill-opacity="0.11" stroke="#2a3fd0" stroke-opacity="0.16" stroke-width="0.3"/>
<rect x="546.15" y="84.90" width="2.80" height="2.35" fill="#2a3fd0" fill-opacity="0.11" stroke="#2a3fd0" stroke-opacity="0.16" stroke-width="0.3"/>
<rect x="549.25" y="61.05" width="2.80" height="2.35" fill="#2a3fd0" fill-opacity="0.11" stroke="#2a3fd0" stroke-opacity="0.16" stroke-width="0.3"/>
<rect x="549.25" y="71.65" width="2.80" height="2.35" fill="#2a3fd0" fill-opacity="0.11" stroke="#2a3fd0" stroke-opacity="0.16" stroke-width="0.3"/>
<rect x="549.25" y="74.30" width="2.80" height="2.35" fill="#2a3fd0" fill-opacity="0.11" stroke="#2a3fd0" stroke-opacity="0.16" stroke-width="0.3"/>
<rect x="549.25" y="84.90" width="2.80" height="2.35" fill="#2a3fd0" fill-opacity="0.11" stroke="#2a3fd0" stroke-opacity="0.16" stroke-width="0.3"/>
<rect x="552.35" y="76.95" width="2.80" height="2.35" fill="#2a3fd0" fill-opacity="0.11" stroke="#2a3fd0" stroke-opacity="0.16" stroke-width="0.3"/>
<rect x="552.35" y="84.90" width="2.80" height="2.35" fill="#2a3fd0" fill-opacity="0.11" stroke="#2a3fd0" stroke-opacity="0.16" stroke-width="0.3"/>
<rect x="555.45" y="69.00" width="2.80" height="2.35" fill="#2a3fd0" fill-opacity="0.11" stroke="#2a3fd0" stroke-opacity="0.16" stroke-width="0.3"/>
<rect x="555.45" y="82.25" width="2.80" height="2.35" fill="#2a3fd0" fill-opacity="0.11" stroke="#2a3fd0" stroke-opacity="0.16" stroke-width="0.3"/>
<rect x="555.45" y="87.55" width="2.80" height="2.35" fill="#2a3fd0" fill-opacity="0.11" stroke="#2a3fd0" stroke-opacity="0.16" stroke-width="0.3"/>
<rect x="555.45" y="90.20" width="2.80" height="2.35" fill="#2a3fd0" fill-opacity="0.11" stroke="#2a3fd0" stroke-opacity="0.16" stroke-width="0.3"/>
<rect x="558.55" y="71.65" width="2.80" height="2.35" fill="#2a3fd0" fill-opacity="0.11" stroke="#2a3fd0" stroke-opacity="0.16" stroke-width="0.3"/>
<rect x="558.55" y="90.20" width="2.80" height="2.35" fill="#2a3fd0" fill-opacity="0.11" stroke="#2a3fd0" stroke-opacity="0.16" stroke-width="0.3"/>
<rect x="561.65" y="71.65" width="2.80" height="2.35" fill="#2a3fd0" fill-opacity="0.11" stroke="#2a3fd0" stroke-opacity="0.16" stroke-width="0.3"/>
<rect x="561.65" y="82.25" width="2.80" height="2.35" fill="#2a3fd0" fill-opacity="0.11" stroke="#2a3fd0" stroke-opacity="0.16" stroke-width="0.3"/>
<rect x="561.65" y="87.55" width="2.80" height="2.35" fill="#2a3fd0" fill-opacity="0.11" stroke="#2a3fd0" stroke-opacity="0.16" stroke-width="0.3"/>
<rect x="564.75" y="76.95" width="2.80" height="2.35" fill="#2a3fd0" fill-opacity="0.11" stroke="#2a3fd0" stroke-opacity="0.16" stroke-width="0.3"/>
<rect x="564.75" y="84.90" width="2.80" height="2.35" fill="#2a3fd0" fill-opacity="0.11" stroke="#2a3fd0" stroke-opacity="0.16" stroke-width="0.3"/>
<rect x="567.85" y="79.60" width="2.80" height="2.35" fill="#2a3fd0" fill-opacity="0.11" stroke="#2a3fd0" stroke-opacity="0.16" stroke-width="0.3"/>
<rect x="567.85" y="84.90" width="2.80" height="2.35" fill="#2a3fd0" fill-opacity="0.11" stroke="#2a3fd0" stroke-opacity="0.16" stroke-width="0.3"/>
<rect x="567.85" y="98.15" width="2.80" height="2.35" fill="#2a3fd0" fill-opacity="0.11" stroke="#2a3fd0" stroke-opacity="0.16" stroke-width="0.3"/>
<rect x="570.95" y="79.60" width="2.80" height="2.35" fill="#2a3fd0" fill-opacity="0.11" stroke="#2a3fd0" stroke-opacity="0.16" stroke-width="0.3"/>
<rect x="570.95" y="90.20" width="2.80" height="2.35" fill="#2a3fd0" fill-opacity="0.11" stroke="#2a3fd0" stroke-opacity="0.16" stroke-width="0.3"/>
<rect x="570.95" y="95.50" width="2.80" height="2.35" fill="#2a3fd0" fill-opacity="0.11" stroke="#2a3fd0" stroke-opacity="0.16" stroke-width="0.3"/>
<rect x="570.95" y="98.15" width="2.80" height="2.35" fill="#2a3fd0" fill-opacity="0.11" stroke="#2a3fd0" stroke-opacity="0.16" stroke-width="0.3"/>
<rect x="574.05" y="87.55" width="2.80" height="2.35" fill="#2a3fd0" fill-opacity="0.11" stroke="#2a3fd0" stroke-opacity="0.16" stroke-width="0.3"/>
<rect x="580.25" y="100.80" width="2.80" height="2.35" fill="#2a3fd0" fill-opacity="0.11" stroke="#2a3fd0" stroke-opacity="0.16" stroke-width="0.3"/>
<text x="423.30" y="164.60" font-size="8.85" text-anchor="middle" >Q. Non-Markovian Measure</text>
<clipPath id="cg"><rect x="369.3" y="168.4" width="107.9" height="94"/></clipPath><g clip-path="url(#cg)">
<polygon points="369.30,258.60 369.80,257.75 370.30,256.95 370.80,256.20 371.30,255.49 371.80,254.82 372.30,254.19 372.80,253.58 373.30,253.00 373.80,252.45 374.30,251.91 374.80,251.39 375.30,250.89 375.80,250.40 376.30,249.93 376.80,249.46 377.30,249.01 377.80,248.56 378.30,248.12 378.80,247.69 379.30,247.26 379.80,246.84 380.30,246.42 380.80,246.01 381.30,245.60 381.80,245.19 382.30,244.78 382.80,244.38 383.30,243.98 383.80,243.59 384.30,243.19 384.80,242.79 385.30,242.40 385.80,242.01 386.30,241.62 386.80,241.23 387.30,240.84 387.80,240.45 388.30,240.06 388.80,239.67 389.30,239.29 389.80,238.90 390.30,238.51 390.80,238.13 391.30,237.74 391.80,237.36 392.30,236.97 392.80,236.59 393.30,236.20 393.80,235.82 394.30,235.43 394.80,235.05 395.30,234.66 395.80,234.28 396.30,233.90 396.80,233.51 397.30,233.13 397.80,232.74 398.30,232.36 398.80,231.98 399.30,231.59 399.80,231.21 400.30,230.82 400.80,230.44 401.30,230.06 401.80,229.67 402.30,229.29 402.80,228.91 403.30,228.52 403.80,228.14 404.30,227.76 404.80,227.37 405.30,226.99 405.80,226.60 406.30,226.22 406.80,225.84 407.30,225.45 407.80,225.07 408.30,224.69 408.80,224.30 409.30,223.92 409.80,223.54 410.30,223.15 410.80,222.77 411.30,222.39 411.80,222.00 412.30,221.62 412.80,221.24 413.30,220.85 413.80,220.47 414.30,220.09 414.80,219.70 415.30,219.32 415.80,218.93 416.30,218.55 416.80,218.17 417.30,217.78 417.80,217.40 418.30,217.02 418.80,216.63 419.30,216.25 419.80,215.87 420.30,215.48 420.80,215.10 421.30,214.72 421.80,214.33 422.30,213.95 422.80,213.57 423.30,213.18 423.80,212.80 424.30,212.42 424.80,212.03 425.30,211.65 425.80,211.26 426.30,210.88 426.80,210.50 427.30,210.11 427.80,209.73 428.30,209.35 428.80,208.96 429.30,208.58 429.80,208.20 430.30,207.81 430.80,207.43 431.30,207.05 431.80,206.66 432.30,206.28 432.80,205.90 433.30,205.51 433.80,205.13 434.30,204.75 434.80,204.36 435.30,203.98 435.80,203.59 436.30,203.21 436.80,202.83 437.30,202.44 437.80,202.06 438.30,201.68 438.80,201.29 439.30,200.91 439.80,200.53 440.30,200.14 440.80,199.76 441.30,199.38 441.80,198.99 442.30,198.61 442.80,198.23 443.30,197.84 443.80,197.46 444.30,197.08 444.80,196.69 445.30,196.31 445.80,195.92 446.30,195.54 446.80,195.16 447.30,194.77 447.80,194.39 448.30,194.01 448.80,193.62 449.30,193.24 449.80,192.86 450.30,192.47 450.80,192.09 451.30,191.71 451.80,191.32 452.30,190.94 452.80,190.56 453.30,190.17 453.80,189.79 454.30,189.41 454.80,189.02 455.30,188.64 455.80,188.25 456.30,187.87 456.80,187.49 457.30,187.10 457.80,186.72 458.30,186.34 458.80,185.95 459.30,185.57 459.80,185.19 460.30,184.80 460.80,184.42 461.30,184.04 461.80,183.65 462.30,183.27 462.80,182.89 463.30,182.50 463.80,182.12 464.30,181.74 464.80,181.35 465.30,180.97 465.80,180.58 466.30,180.20 466.80,179.82 467.30,179.43 467.80,179.05 468.30,178.67 468.80,178.28 469.30,177.90 469.80,177.52 470.30,177.13 470.80,176.75 471.30,176.37 471.80,175.98 472.30,175.60 472.80,175.22 473.30,174.83 473.80,174.45 474.30,174.07 474.80,173.68 475.30,173.30 475.80,172.91 476.30,172.53 476.80,172.15 477.30,171.76 477.30,202.00 476.80,202.25 476.30,202.49 475.80,202.73 475.30,202.98 474.80,203.22 474.30,203.47 473.80,203.71 473.30,203.95 472.80,204.20 472.30,204.44 471.80,204.68 471.30,204.93 470.80,205.17 470.30,205.41 469.80,205.66 469.30,205.90 468.80,206.14 468.30,206.39 467.80,206.63 467.30,206.87 466.80,207.12 466.30,207.36 465.80,207.60 465.30,207.85 464.80,208.09 464.30,208.34 463.80,208.58 463.30,208.82 462.80,209.07 462.30,209.31 461.80,209.55 461.30,209.80 460.80,210.04 460.30,210.28 459.80,210.53 459.30,210.77 458.80,211.01 458.30,211.26 457.80,211.50 457.30,211.74 456.80,211.99 456.30,212.23 455.80,212.47 455.30,212.72 454.80,212.96 454.30,213.21 453.80,213.45 453.30,213.69 452.80,213.94 452.30,214.18 451.80,214.42 451.30,214.67 450.80,214.91 450.30,215.15 449.80,215.40 449.30,215.64 448.80,215.88 448.30,216.13 447.80,216.37 447.30,216.61 446.80,216.86 446.30,217.10 445.80,217.34 445.30,217.59 444.80,217.83 444.30,218.08 443.80,218.32 443.30,218.56 442.80,218.81 442.30,219.05 441.80,219.29 441.30,219.54 440.80,219.78 440.30,220.02 439.80,220.27 439.30,220.51 438.80,220.75 438.30,221.00 437.80,221.24 437.30,221.48 436.80,221.73 436.30,221.97 435.80,222.21 435.30,222.46 434.80,222.70 434.30,222.95 433.80,223.19 433.30,223.43 432.80,223.68 432.30,223.92 431.80,224.16 431.30,224.41 430.80,224.65 430.30,224.89 429.80,225.14 429.30,225.38 428.80,225.62 428.30,225.87 427.80,226.11 427.30,226.35 426.80,226.60 426.30,226.84 425.80,227.08 425.30,227.33 424.80,227.57 424.30,227.82 423.80,228.06 423.30,228.30 422.80,228.55 422.30,228.79 421.80,229.03 421.30,229.28 420.80,229.52 420.30,229.76 419.80,230.01 419.30,230.25 418.80,230.49 418.30,230.74 417.80,230.98 417.30,231.22 416.80,231.47 416.30,231.71 415.80,231.95 415.30,232.20 414.80,232.44 414.30,232.69 413.80,232.93 413.30,233.17 412.80,233.42 412.30,233.66 411.80,233.90 411.30,234.15 410.80,234.39 410.30,234.63 409.80,234.88 409.30,235.12 408.80,235.36 408.30,235.61 407.80,235.85 407.30,236.09 406.80,236.34 406.30,236.58 405.80,236.82 405.30,237.07 404.80,237.31 404.30,237.56 403.80,237.80 403.30,238.04 402.80,238.29 402.30,238.53 401.80,238.77 401.30,239.02 400.80,239.26 400.30,239.50 399.80,239.75 399.30,239.99 398.80,240.24 398.30,240.48 397.80,240.72 397.30,240.97 396.80,241.21 396.30,241.46 395.80,241.70 395.30,241.94 394.80,242.19 394.30,242.43 393.80,242.68 393.30,242.92 392.80,243.17 392.30,243.41 391.80,243.66 391.30,243.90 390.80,244.15 390.30,244.39 389.80,244.64 389.30,244.89 388.80,245.13 388.30,245.38 387.80,245.63 387.30,245.88 386.80,246.13 386.30,246.38 385.80,246.63 385.30,246.88 384.80,247.13 384.30,247.39 383.80,247.65 383.30,247.90 382.80,248.16 382.30,248.42 381.80,248.69 381.30,248.96 380.80,249.23 380.30,249.50 379.80,249.78 379.30,250.06 378.80,250.35 378.30,250.64 377.80,250.94 377.30,251.25 376.80,251.56 376.30,251.89 375.80,252.22 375.30,252.57 374.80,252.93 374.30,253.31 373.80,253.71 373.30,254.12 372.80,254.56 372.30,255.03 371.80,255.52 371.30,256.05 370.80,256.62 370.30,257.23 369.80,257.89 369.30,258.60" fill="#fcc9c9" />
<polyline points="369.30,258.60 369.80,257.82 370.30,257.09 370.80,256.41 371.30,255.77 371.80,255.17 372.30,254.61 372.80,254.07 373.30,253.56 373.80,253.08 374.30,252.61 374.80,252.16 375.30,251.73 375.80,251.31 376.30,250.91 376.80,250.51 377.30,250.13 377.80,249.75 378.30,249.38 378.80,249.02 379.30,248.66 379.80,248.31 380.30,247.96 380.80,247.62 381.30,247.28 381.80,246.94 382.30,246.60 382.80,246.27 383.30,245.94 383.80,245.62 384.30,245.29 384.80,244.96 385.30,244.64 385.80,244.32 386.30,244.00 386.80,243.68 387.30,243.36 387.80,243.04 388.30,242.72 388.80,242.40 389.30,242.09 389.80,241.77 390.30,241.45 390.80,241.14 391.30,240.82 391.80,240.51 392.30,240.19 392.80,239.88 393.30,239.56 393.80,239.25 394.30,238.93 394.80,238.62 395.30,238.30 395.80,237.99 396.30,237.68 396.80,237.36 397.30,237.05 397.80,236.73 398.30,236.42 398.80,236.11 399.30,235.79 399.80,235.48 400.30,235.16 400.80,234.85 401.30,234.54 401.80,234.22 402.30,233.91 402.80,233.60 403.30,233.28 403.80,232.97 404.30,232.66 404.80,232.34 405.30,232.03 405.80,231.71 406.30,231.40 406.80,231.09 407.30,230.77 407.80,230.46 408.30,230.15 408.80,229.83 409.30,229.52 409.80,229.21 410.30,228.89 410.80,228.58 411.30,228.27 411.80,227.95 412.30,227.64 412.80,227.33 413.30,227.01 413.80,226.70 414.30,226.39 414.80,226.07 415.30,225.76 415.80,225.44 416.30,225.13 416.80,224.82 417.30,224.50 417.80,224.19 418.30,223.88 418.80,223.56 419.30,223.25 419.80,222.94 420.30,222.62 420.80,222.31 421.30,222.00 421.80,221.68 422.30,221.37 422.80,221.06 423.30,220.74 423.80,220.43 424.30,220.12 424.80,219.80 425.30,219.49 425.80,219.17 426.30,218.86 426.80,218.55 427.30,218.23 427.80,217.92 428.30,217.61 428.80,217.29 429.30,216.98 429.80,216.67 430.30,216.35 430.80,216.04 431.30,215.73 431.80,215.41 432.30,215.10 432.80,214.79 433.30,214.47 433.80,214.16 434.30,213.85 434.80,213.53 435.30,213.22 435.80,212.90 436.30,212.59 436.80,212.28 437.30,211.96 437.80,211.65 438.30,211.34 438.80,211.02 439.30,210.71 439.80,210.40 440.30,210.08 440.80,209.77 441.30,209.46 441.80,209.14 442.30,208.83 442.80,208.52 443.30,208.20 443.80,207.89 444.30,207.58 444.80,207.26 445.30,206.95 445.80,206.63 446.30,206.32 446.80,206.01 447.30,205.69 447.80,205.38 448.30,205.07 448.80,204.75 449.30,204.44 449.80,204.13 450.30,203.81 450.80,203.50 451.30,203.19 451.80,202.87 452.30,202.56 452.80,202.25 453.30,201.93 453.80,201.62 454.30,201.31 454.80,200.99 455.30,200.68 455.80,200.36 456.30,200.05 456.80,199.74 457.30,199.42 457.80,199.11 458.30,198.80 458.80,198.48 459.30,198.17 459.80,197.86 460.30,197.54 460.80,197.23 461.30,196.92 461.80,196.60 462.30,196.29 462.80,195.98 463.30,195.66 463.80,195.35 464.30,195.04 464.80,194.72 465.30,194.41 465.80,194.09 466.30,193.78 466.80,193.47 467.30,193.15 467.80,192.84 468.30,192.53 468.80,192.21 469.30,191.90 469.80,191.59 470.30,191.27 470.80,190.96 471.30,190.65 471.80,190.33 472.30,190.02 472.80,189.71 473.30,189.39 473.80,189.08 474.30,188.77 474.80,188.45 475.30,188.14 475.80,187.82 476.30,187.51 476.80,187.20 477.30,186.88" fill="none" stroke="#000" stroke-width="1.45" stroke-linejoin="round" />
</g>
<rect x="369.30" y="168.40" width="107.90" height="94.00" fill="none" stroke="#262626" stroke-width="0.85"/>
<line x1="366.70" y1="258.70" x2="369.30" y2="258.70" stroke="#262626" stroke-width="0.85"/>
<text x="364.10" y="261.25" font-size="7.1" text-anchor="end" >0</text>
<line x1="366.70" y1="236.10" x2="369.30" y2="236.10" stroke="#262626" stroke-width="0.85"/>
<text x="364.10" y="238.65" font-size="7.1" text-anchor="end" >0.5</text>
<line x1="366.70" y1="213.50" x2="369.30" y2="213.50" stroke="#262626" stroke-width="0.85"/>
<text x="364.10" y="216.05" font-size="7.1" text-anchor="end" >1</text>
<line x1="366.70" y1="190.90" x2="369.30" y2="190.90" stroke="#262626" stroke-width="0.85"/>
<text x="364.10" y="193.45" font-size="7.1" text-anchor="end" >1.5</text>
<line x1="396.20" y1="262.40" x2="396.20" y2="265.00" stroke="#262626" stroke-width="0.85"/>
<text x="396.20" y="273.50" font-size="7.1" text-anchor="middle" >1</text>
<line x1="423.10" y1="262.40" x2="423.10" y2="265.00" stroke="#262626" stroke-width="0.85"/>
<text x="423.10" y="273.50" font-size="7.1" text-anchor="middle" >2</text>
<line x1="450.00" y1="262.40" x2="450.00" y2="265.00" stroke="#262626" stroke-width="0.85"/>
<text x="450.00" y="273.50" font-size="7.1" text-anchor="middle" >3</text>
<line x1="476.90" y1="262.40" x2="476.90" y2="265.00" stroke="#262626" stroke-width="0.85"/>
<text x="476.90" y="273.50" font-size="7.1" text-anchor="middle" >4</text>
<text x="473.40" y="178.60" font-size="8.2" text-anchor="end" font-weight="bold">(g)</text>
<text x="423" y="282.6" font-size="7.4" text-anchor="middle">Time (<tspan font-style="italic">t</tspan>)</text>
<g transform="translate(349.90,224.60) rotate(-90)">
<text x="0.00" y="0.00" font-size="8.4" font-style="italic" font-family="Liberation Serif">N</text>
<text x="6.00" y="0.00" font-size="8.2">(</text>
<text x="8.70" y="0.00" font-size="8.2">&#934;</text>
<text x="14.90" y="0.00" font-size="8.2">)</text>
</g>
<rect x="372.7" y="172" width="54.6" height="28" fill="#fff" stroke="#262626" stroke-width="0.85"/>
<clipPath id="ci"><rect x="372.7" y="172" width="54.6" height="28"/></clipPath><g clip-path="url(#ci)">
<polygon points="375.40,185.80 376.00,185.19 376.60,185.55 377.20,185.34 377.80,185.62 378.40,185.65 379.00,184.98 379.60,184.92 380.20,185.90 380.80,185.21 381.40,185.18 382.00,186.09 382.60,185.46 383.20,185.90 383.80,185.47 384.40,185.67 385.00,185.08 385.60,185.66 386.20,185.94 386.80,185.53 387.40,185.79 388.00,185.71 388.60,184.98 389.20,185.81 389.80,185.61 390.40,185.26 391.00,184.94 391.60,185.94 392.20,185.47 392.80,185.76 393.40,185.95 394.00,185.76 394.60,186.01 395.20,185.37 395.80,185.86 396.40,185.43 397.00,186.02 397.60,185.95 398.20,185.02 398.80,185.06 399.40,185.16 400.00,186.06 400.60,185.42 401.20,185.65 401.80,185.26 402.40,185.51 403.00,185.36 403.60,185.32 404.20,185.60 404.80,185.60 405.40,185.99 406.00,185.72 406.60,186.01 407.20,185.93 407.80,186.09 408.40,185.71 409.00,185.10 409.60,185.93 410.20,186.06 410.80,185.99 411.40,185.58 412.00,185.76 412.60,185.15 413.20,185.90 413.80,185.59 414.40,185.24 415.00,184.98 415.60,185.92 416.20,186.09 416.80,185.01 417.40,185.86 418.00,185.39 418.60,185.08 419.20,185.25 419.80,185.82 420.40,185.95 421.00,184.95 421.60,185.64 422.20,184.95 422.80,185.76 423.40,185.30 424.00,185.96 424.60,186.08 424.60,197.01 424.00,197.50 423.40,196.81 422.80,196.58 422.20,197.10 421.60,196.53 421.00,196.70 420.40,196.91 419.80,197.11 419.20,196.66 418.60,196.54 418.00,197.37 417.40,196.81 416.80,197.46 416.20,197.40 415.60,196.88 415.00,196.96 414.40,197.02 413.80,197.14 413.20,197.10 412.60,197.06 412.00,197.12 411.40,197.44 410.80,197.01 410.20,196.93 409.60,197.22 409.00,196.74 408.40,196.80 407.80,197.48 407.20,197.02 406.60,197.05 406.00,196.51 405.40,196.92 404.80,197.08 404.20,196.52 403.60,197.12 403.00,197.13 402.40,196.56 401.80,197.13 401.20,196.97 400.60,197.18 400.00,196.85 399.40,197.21 398.80,197.24 398.20,196.52 397.60,196.56 397.00,197.18 396.40,197.46 395.80,196.75 395.20,196.96 394.60,197.09 394.00,196.82 393.40,196.86 392.80,196.81 392.20,196.87 391.60,197.10 391.00,196.80 390.40,196.88 389.80,197.27 389.20,196.53 388.60,197.07 388.00,197.24 387.40,196.81 386.80,196.72 386.20,197.30 385.60,196.74 385.00,196.69 384.40,196.94 383.80,197.20 383.20,196.60 382.60,196.82 382.00,196.83 381.40,197.33 380.80,196.94 380.20,197.36 379.60,196.67 379.00,196.84 378.40,197.15 377.80,197.38 377.20,196.95 376.60,196.73 376.00,196.62 375.40,197.03" fill="#fcc5c5" />
<polyline points="375.40,172.60 376.00,182.00 376.60,188.00 377.20,190.60 377.80,190.31 378.40,191.29 379.00,191.34 379.60,190.29 380.20,190.45 380.80,191.29 381.40,191.03 382.00,191.29 382.60,190.55 383.20,190.21 383.80,190.47 384.40,191.27 385.00,190.43 385.60,190.55 386.20,190.67 386.80,190.67 387.40,190.66 388.00,191.47 388.60,190.25 389.20,190.01 389.80,191.51 390.40,191.41 391.00,191.58 391.60,190.69 392.20,191.52 392.80,191.48 393.40,190.36 394.00,191.19 394.60,191.34 395.20,191.06 395.80,190.83 396.40,190.46 397.00,190.55 397.60,190.36 398.20,190.11 398.80,190.94 399.40,190.46 400.00,191.30 400.60,190.07 401.20,191.45 401.80,191.11 402.40,191.48 403.00,191.43 403.60,191.44 404.20,190.92 404.80,190.02 405.40,191.19 406.00,190.27 406.60,190.48 407.20,191.06 407.80,190.84 408.40,190.66 409.00,191.50 409.60,190.98 410.20,190.55 410.80,190.40 411.40,191.38 412.00,190.76 412.60,191.25 413.20,190.56 413.80,190.32 414.40,190.86 415.00,191.31 415.60,190.27 416.20,191.27 416.80,191.47 417.40,191.29 418.00,191.32 418.60,190.01 419.20,191.01 419.80,191.38 420.40,190.08 421.00,190.43 421.60,190.43 422.20,190.84 422.80,190.68 423.40,190.76 424.00,191.24 424.60,190.00" fill="none" stroke="#000" stroke-width="1.5" stroke-linejoin="round" />
</g>
<line x1="427.30" y1="173.30" x2="429.50" y2="173.30" stroke="#262626" stroke-width="0.85"/>
<text x="431.00" y="175.85" font-size="7.1" text-anchor="start" >1</text>
<line x1="427.30" y1="188.20" x2="429.50" y2="188.20" stroke="#262626" stroke-width="0.85"/>
<text x="431.00" y="190.75" font-size="7.1" text-anchor="start" >0.5</text>
<line x1="375.40" y1="200.00" x2="375.40" y2="202.20" stroke="#262626" stroke-width="0.85"/>
<text x="375.40" y="209.70" font-size="7.1" text-anchor="middle" >0</text>
<line x1="424.10" y1="200.00" x2="424.10" y2="202.20" stroke="#262626" stroke-width="0.85"/>
<text x="424.10" y="209.70" font-size="7.1" text-anchor="middle" >10</text>
<g transform="translate(0.00,0.00)">
<text x="383.90" y="178.90" font-size="5.0">1</text>
<text x="383.90" y="185.00" font-size="5.0">2</text>
<text x="389.40" y="182.20" font-size="6.0">Tr|</text>
<text x="396.40" y="182.20" font-size="6.0" font-style="italic">&#961;</text>
<text x="399.60" y="183.40" font-size="4.2">1</text>
<text x="402.60" y="182.20" font-size="6.0">&#8722;</text>
<text x="408.20" y="182.20" font-size="6.0" font-style="italic">&#961;</text>
<text x="411.40" y="183.40" font-size="4.2">2</text>
<text x="414.20" y="182.20" font-size="6.0">|</text>
</g>
<line x1="383.7" y1="180.2" x2="386.9" y2="180.2" stroke="#222" stroke-width="0.4"/>
<text x="556.50" y="164.60" font-size="8.85" text-anchor="middle" >Ansatz</text>
<rect x="523.6" y="178.2" width="48.4" height="11.6" rx="3.2" fill="#f9c3c8"/>
<rect x="523.6" y="194.0" width="48.4" height="10.9" rx="3.2" fill="#fde6c6"/>
<rect x="523.6" y="208.7" width="48.4" height="12.5" rx="3.2" fill="#a9cbdc"/>
<line x1="517.40" y1="184.30" x2="527.50" y2="184.30" stroke="#111" stroke-width="0.95"/>
<line x1="539.50" y1="184.30" x2="543.20" y2="184.30" stroke="#111" stroke-width="0.95"/>
<line x1="554.90" y1="184.30" x2="558.40" y2="184.30" stroke="#111" stroke-width="0.95"/>
<line x1="569.80" y1="184.30" x2="573.70" y2="184.30" stroke="#111" stroke-width="0.95"/>
<line x1="517.40" y1="199.50" x2="527.50" y2="199.50" stroke="#111" stroke-width="0.95"/>
<line x1="539.50" y1="199.50" x2="543.20" y2="199.50" stroke="#111" stroke-width="0.95"/>
<line x1="554.90" y1="199.50" x2="558.40" y2="199.50" stroke="#111" stroke-width="0.95"/>
<line x1="569.80" y1="199.50" x2="573.70" y2="199.50" stroke="#111" stroke-width="0.95"/>
<line x1="517.40" y1="215.10" x2="527.50" y2="215.10" stroke="#111" stroke-width="0.95"/>
<line x1="539.50" y1="215.10" x2="543.20" y2="215.10" stroke="#111" stroke-width="0.95"/>
<line x1="554.90" y1="215.10" x2="558.40" y2="215.10" stroke="#111" stroke-width="0.95"/>
<line x1="569.80" y1="215.10" x2="573.70" y2="215.10" stroke="#111" stroke-width="0.95"/>
<line x1="585.90" y1="184.30" x2="595.30" y2="184.30" stroke="#111" stroke-width="0.95"/>
<line x1="585.90" y1="199.50" x2="595.30" y2="199.50" stroke="#111" stroke-width="0.95"/>
<line x1="569.80" y1="215.10" x2="595.30" y2="215.10" stroke="#111" stroke-width="0.95"/>
<rect x="527.5" y="178.6" width="12.0" height="42.2" rx="3" fill="none" stroke="#1a1a1a" stroke-width="0.95"/>
<rect x="528.0" y="190.0" width="11.0" height="18.4" fill="#fff" fill-opacity="0.7"/>
<rect x="543.2" y="178.6" width="11.7" height="42.2" rx="3" fill="none" stroke="#1a1a1a" stroke-width="0.95"/>
<rect x="543.7" y="190.0" width="10.7" height="18.4" fill="#fff" fill-opacity="0.7"/>
<rect x="558.4" y="178.6" width="11.4" height="42.2" rx="3" fill="none" stroke="#1a1a1a" stroke-width="0.95"/>
<rect x="558.9" y="190.0" width="10.4" height="18.4" fill="#fff" fill-opacity="0.7"/>
<text transform="translate(534.2,199.8) rotate(-90)" font-size="6.6" text-anchor="middle" font-style="italic">W(&#945;)</text>
<text transform="translate(549.8,199.8) rotate(-90)" font-size="6.6" text-anchor="middle" font-style="italic">D(&#947;, t)</text>
<text transform="translate(564.8,199.8) rotate(-90)" font-size="6.6" text-anchor="middle" font-style="italic">W&#8224;(&#945;)</text>
<rect x="573.7" y="178.0" width="12.2" height="12" rx="3" fill="#fff" stroke="#111" stroke-width="0.95"/>
<path d="M575.9,187.2 A4.2,4.2 0 0 1 583.7,187.2" fill="none" stroke="#111" stroke-width="1.1"/>
<line x1="578.6" y1="188.0" x2="584.0" y2="179.8" stroke="#111" stroke-width="1.1"/>
<rect x="573.7" y="193.7" width="12.2" height="12" rx="3" fill="#fff" stroke="#111" stroke-width="0.95"/>
<path d="M575.9,202.9 A4.2,4.2 0 0 1 583.7,202.9" fill="none" stroke="#111" stroke-width="1.1"/>
<line x1="578.6" y1="203.7" x2="584.0" y2="195.5" stroke="#111" stroke-width="1.1"/>
<text x="606.40" y="178.90" font-size="8.2" text-anchor="end" font-weight="bold">(h)</text>
<line x1="505.0" y1="180.5" x2="505.0" y2="186.9" stroke="#222" stroke-width="0.5"/>
<g transform="translate(0.00,0.00)">
<text x="505.90" y="186.10" font-size="6.4" font-style="italic">x</text>
<text x="509.60" y="182.90" font-size="4.2">1</text>
<text x="509.60" y="187.50" font-size="4.2">0</text>
</g>
<polyline points="512.4,180.5 513.7,183.7 512.4,186.9" fill="none" stroke="#222" stroke-width="0.5"/>
<line x1="505.0" y1="195.7" x2="505.0" y2="202.1" stroke="#222" stroke-width="0.5"/>
<g transform="translate(0.00,0.00)">
<text x="505.90" y="201.30" font-size="6.4" font-style="italic">x</text>
<text x="509.60" y="198.10" font-size="4.2">2</text>
<text x="509.60" y="202.70" font-size="4.2">0</text>
</g>
<polyline points="512.4,195.7 513.7,198.9 512.4,202.1" fill="none" stroke="#222" stroke-width="0.5"/>
<line x1="505.0" y1="211.3" x2="505.0" y2="217.7" stroke="#222" stroke-width="0.5"/>
<g transform="translate(0.00,0.00)">
<text x="505.90" y="216.90" font-size="6.4" font-style="italic">&#968;</text>
<text x="510.20" y="217.90" font-size="4.2" font-style="italic">e</text>
</g>
<polyline points="512.6,211.3 513.9,214.5 512.6,217.7" fill="none" stroke="#222" stroke-width="0.5"/>
<rect x="515.2" y="225.9" width="16.8" height="6.6" fill="#f9c3c8"/>
<text x="537.00" y="231.90" font-size="7.4" text-anchor="start" >CPTP Map in</text>
<g transform="translate(0.00,0.00)">
<text x="583.00" y="231.90" font-size="8.2" font-style="italic" font-family="Liberation Serif">H</text>
<text x="589.20" y="233.50" font-size="5.2" font-style="italic">X</text>
<text x="592.80" y="229.70" font-size="3.8">1</text>
</g>
<rect x="515.2" y="237.2" width="16.8" height="6.6" fill="#fde6c6"/>
<text x="537.00" y="243.20" font-size="7.4" text-anchor="start" >CPTP Map in</text>
<g transform="translate(0.00,0.00)">
<text x="583.00" y="243.20" font-size="8.2" font-style="italic" font-family="Liberation Serif">H</text>
<text x="589.20" y="244.80" font-size="5.2" font-style="italic">X</text>
<text x="592.80" y="241.00" font-size="3.8">2</text>
</g>
<rect x="515.2" y="248.1" width="16.8" height="6.6" fill="#a9cbdc"/>
<text x="537.00" y="254.10" font-size="7.4" text-anchor="start" >CPTP Map in</text>
<g transform="translate(0.00,0.00)">
<text x="583.00" y="254.10" font-size="8.2" font-style="italic" font-family="Liberation Serif">H</text>
<text x="589.20" y="255.70" font-size="5.2" font-style="italic">e</text>
</g>
</svg></body></html>
